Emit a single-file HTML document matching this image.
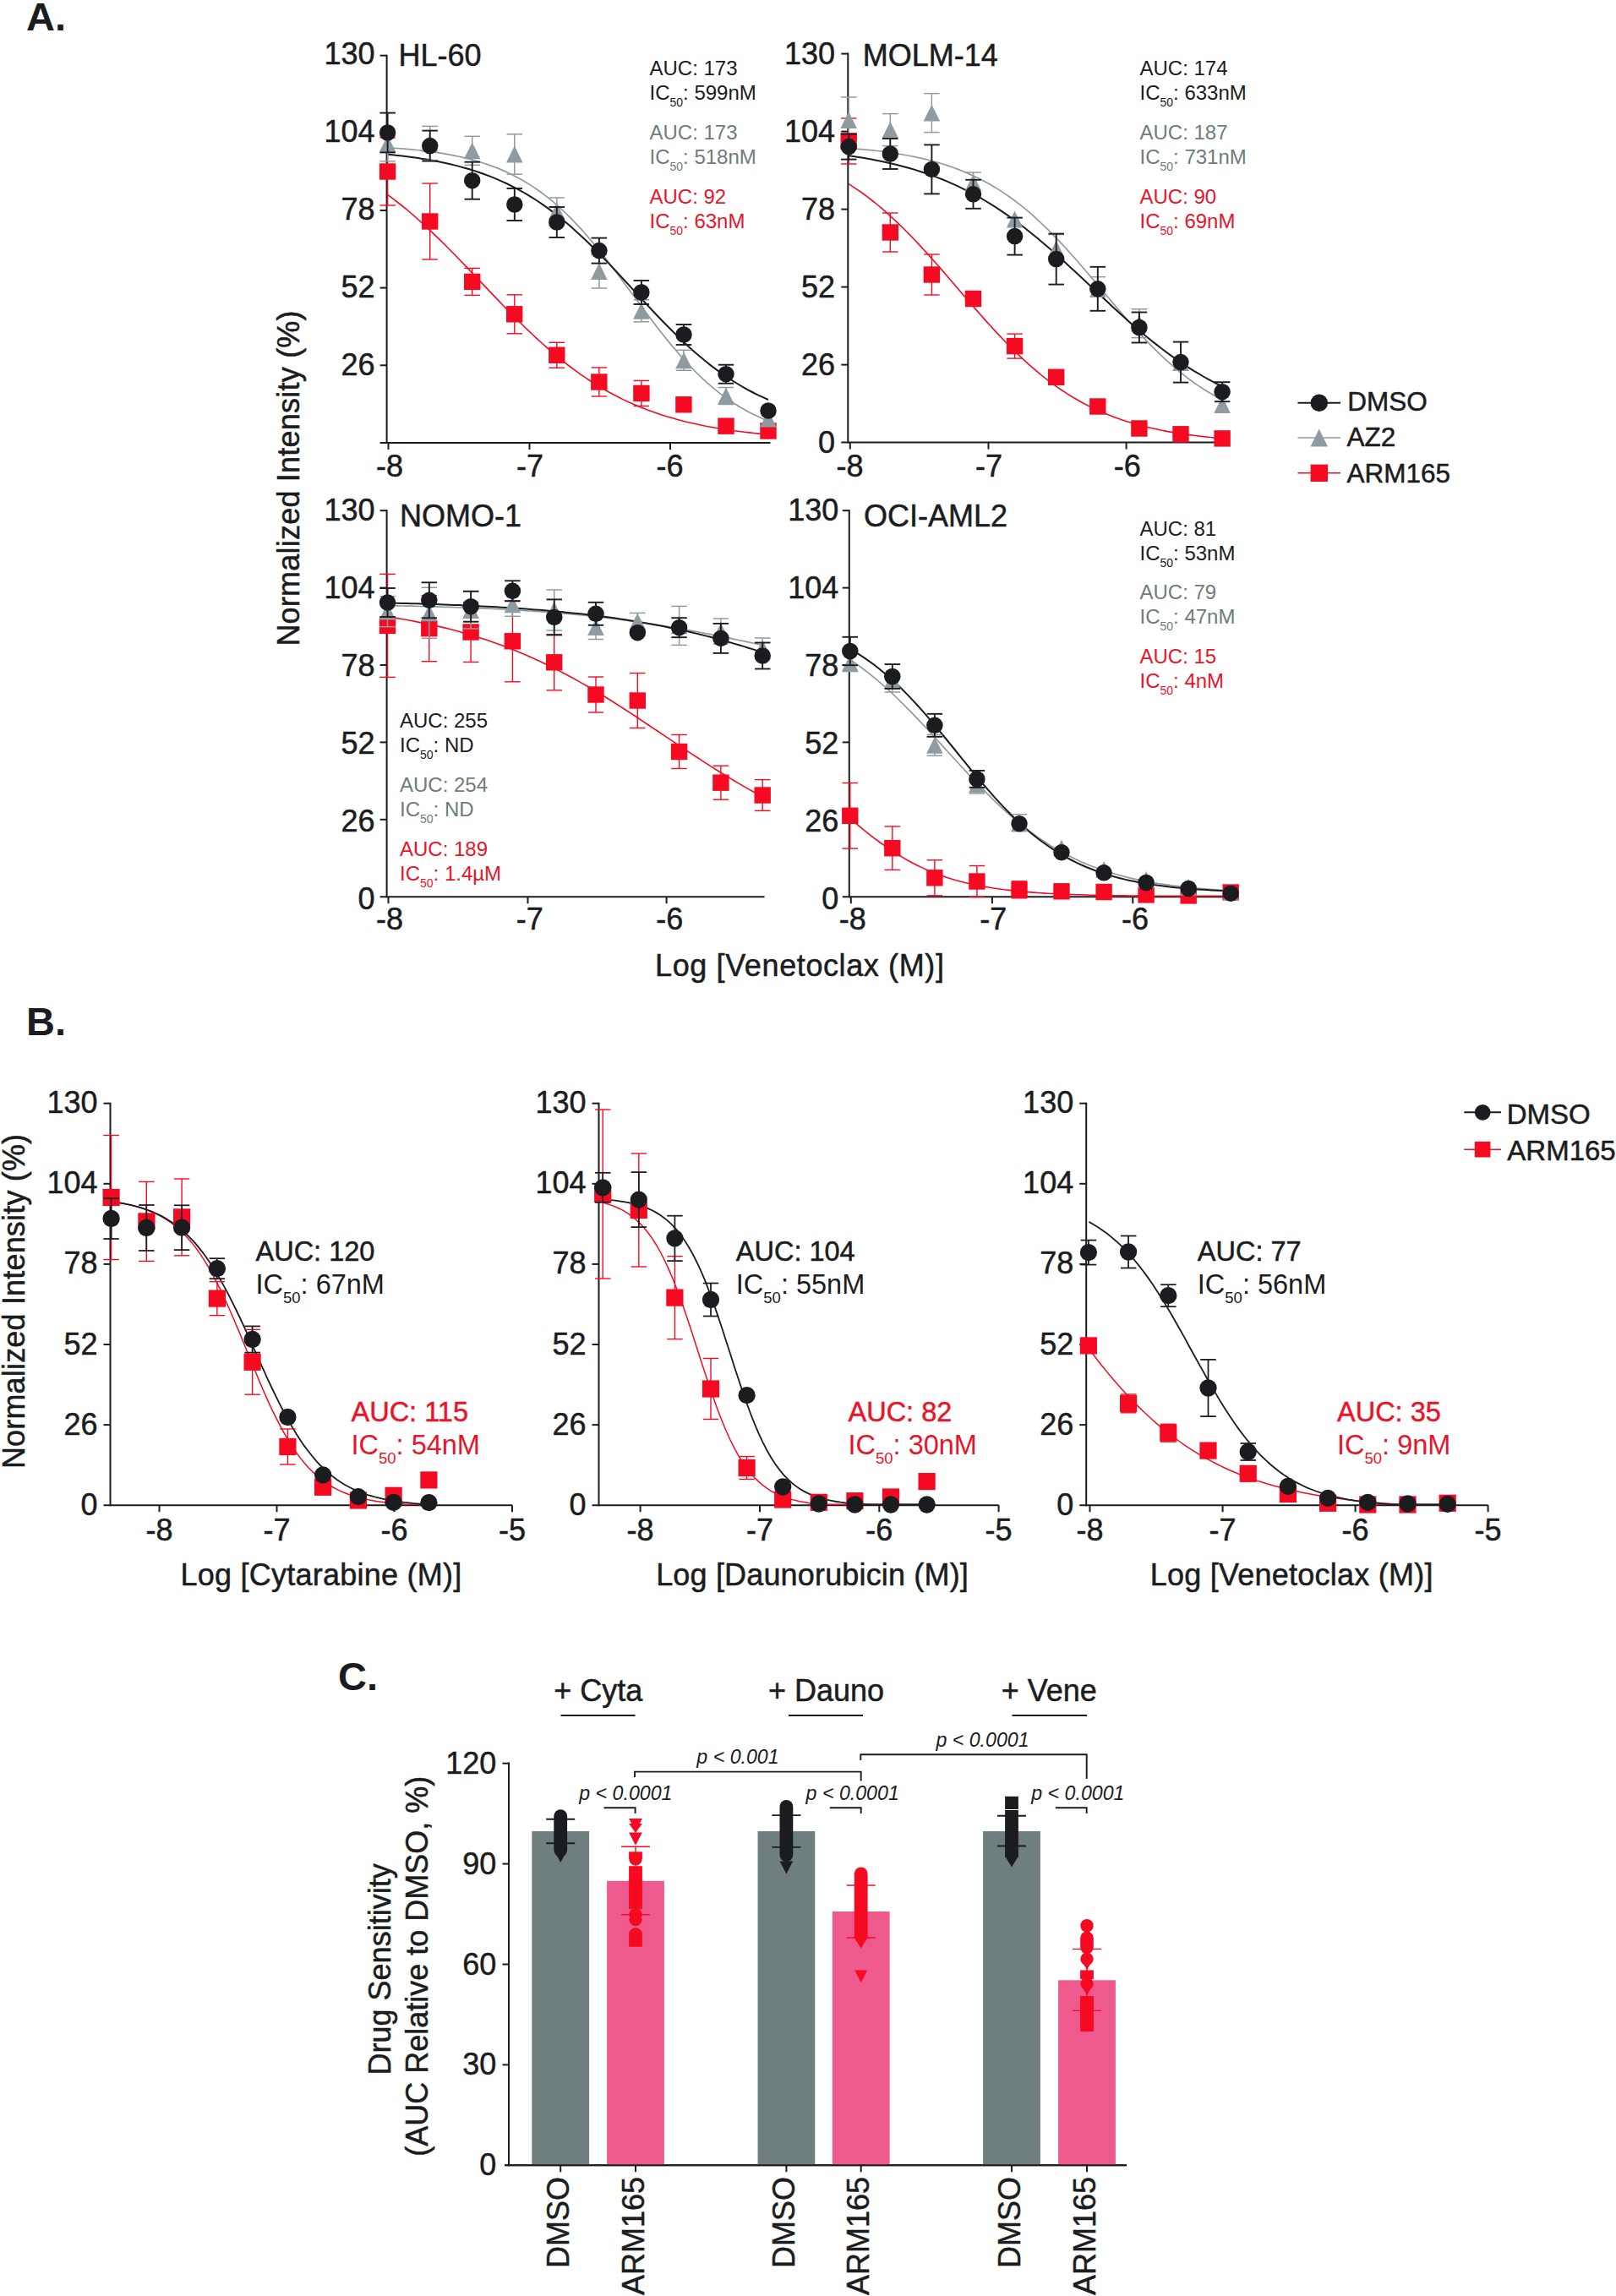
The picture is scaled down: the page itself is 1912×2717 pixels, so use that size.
<!DOCTYPE html>
<html><head><meta charset="utf-8"><title>Figure</title>
<style>html,body{margin:0;padding:0;background:#fff}svg{display:block}</style></head>
<body>
<svg width="1912" height="2717" viewBox="0 0 1912 2717" font-family="'Liberation Sans', Arial, Helvetica, sans-serif">
<rect width="1912" height="2717" fill="#fff"/>
<text x="31.0" y="36.0" font-size="47" fill="#1b1c20" text-anchor="start" font-weight="bold" font-style="normal">A.</text>
<text x="31.0" y="1225.0" font-size="47" fill="#1b1c20" text-anchor="start" font-weight="bold" font-style="normal">B.</text>
<text x="400.0" y="1999.5" font-size="47" fill="#1b1c20" text-anchor="start" font-weight="bold" font-style="normal">C.</text>
<line x1="457.6" y1="64.7" x2="457.6" y2="524.9" stroke="#1b1c20" stroke-width="2.0" stroke-linecap="butt"/>
<line x1="449.6" y1="523.9" x2="911.5" y2="523.9" stroke="#1b1c20" stroke-width="2.0" stroke-linecap="butt"/>
<line x1="449.6" y1="432.3" x2="457.6" y2="432.3" stroke="#1b1c20" stroke-width="2.0" stroke-linecap="butt"/>
<text x="443.6" y="443.5" font-size="36" fill="#1b1c20" text-anchor="end" font-weight="normal" font-style="normal" stroke="#1b1c20" stroke-width="0.5">26</text>
<line x1="449.6" y1="340.6" x2="457.6" y2="340.6" stroke="#1b1c20" stroke-width="2.0" stroke-linecap="butt"/>
<text x="443.6" y="351.6" font-size="36" fill="#1b1c20" text-anchor="end" font-weight="normal" font-style="normal" stroke="#1b1c20" stroke-width="0.5">52</text>
<line x1="449.6" y1="249.0" x2="457.6" y2="249.0" stroke="#1b1c20" stroke-width="2.0" stroke-linecap="butt"/>
<text x="443.6" y="259.6" font-size="36" fill="#1b1c20" text-anchor="end" font-weight="normal" font-style="normal" stroke="#1b1c20" stroke-width="0.5">78</text>
<line x1="449.6" y1="157.3" x2="457.6" y2="157.3" stroke="#1b1c20" stroke-width="2.0" stroke-linecap="butt"/>
<text x="443.6" y="167.7" font-size="36" fill="#1b1c20" text-anchor="end" font-weight="normal" font-style="normal" stroke="#1b1c20" stroke-width="0.5">104</text>
<line x1="449.6" y1="65.7" x2="457.6" y2="65.7" stroke="#1b1c20" stroke-width="2.0" stroke-linecap="butt"/>
<text x="443.6" y="75.7" font-size="36" fill="#1b1c20" text-anchor="end" font-weight="normal" font-style="normal" stroke="#1b1c20" stroke-width="0.5">130</text>
<line x1="459.5" y1="523.9" x2="459.5" y2="531.9" stroke="#1b1c20" stroke-width="2.0" stroke-linecap="butt"/>
<text x="461.0" y="563.6" font-size="36" fill="#1b1c20" text-anchor="middle" font-weight="normal" font-style="normal" stroke="#1b1c20" stroke-width="0.5">-8</text>
<line x1="626.5" y1="523.9" x2="626.5" y2="531.9" stroke="#1b1c20" stroke-width="2.0" stroke-linecap="butt"/>
<text x="626.9" y="563.6" font-size="36" fill="#1b1c20" text-anchor="middle" font-weight="normal" font-style="normal" stroke="#1b1c20" stroke-width="0.5">-7</text>
<line x1="793.0" y1="523.9" x2="793.0" y2="531.9" stroke="#1b1c20" stroke-width="2.0" stroke-linecap="butt"/>
<text x="792.5" y="563.6" font-size="36" fill="#1b1c20" text-anchor="middle" font-weight="normal" font-style="normal" stroke="#1b1c20" stroke-width="0.5">-6</text>
<text x="471.5" y="77.8" font-size="36" fill="#1b1c20" text-anchor="start" font-weight="normal" font-style="normal" stroke="#1b1c20" stroke-width="0.5">HL-60</text>
<path d="M458.6,230.3 L464.3,234.6 L470.0,239.0 L475.7,243.5 L481.4,248.2 L487.1,253.0 L492.8,258.0 L498.5,263.1 L504.2,268.3 L509.9,273.6 L515.6,279.1 L521.3,284.6 L527.0,290.3 L532.7,296.0 L538.4,301.8 L544.1,307.7 L549.8,313.6 L555.5,319.6 L561.2,325.6 L566.9,331.6 L572.6,337.6 L578.3,343.6 L584.0,349.6 L589.7,355.6 L595.4,361.5 L601.1,367.4 L606.8,373.2 L612.6,378.9 L618.3,384.5 L624.0,390.1 L629.7,395.5 L635.4,400.8 L641.1,406.0 L646.8,411.1 L652.5,416.1 L658.2,420.9 L663.9,425.6 L669.6,430.1 L675.3,434.5 L681.0,438.7 L686.7,442.8 L692.4,446.7 L698.1,450.5 L703.8,454.2 L709.5,457.7 L715.2,461.0 L720.9,464.3 L726.6,467.3 L732.3,470.3 L738.0,473.1 L743.7,475.8 L749.4,478.3 L755.1,480.7 L760.8,483.0 L766.5,485.2 L772.2,487.3 L777.9,489.3 L783.6,491.2 L789.3,493.0 L795.0,494.6 L800.7,496.2 L806.4,497.8 L812.1,499.2 L817.8,500.5 L823.5,501.8 L829.2,503.0 L834.9,504.2 L840.6,505.2 L846.3,506.2 L852.0,507.2 L857.7,508.1 L863.4,508.9 L869.1,509.8 L874.8,510.5 L880.5,511.2 L886.2,511.9 L891.9,512.5 L897.6,513.1 L903.3,513.7 L909.0,514.2" fill="none" stroke="#f60a21" stroke-width="1.6"/>
<path d="M458.6,174.7 L464.3,175.1 L470.0,175.5 L475.7,175.9 L481.4,176.4 L487.1,176.9 L492.8,177.5 L498.5,178.1 L504.2,178.8 L509.9,179.6 L515.6,180.4 L521.3,181.2 L527.0,182.2 L532.7,183.2 L538.4,184.3 L544.1,185.5 L549.8,186.8 L555.5,188.2 L561.2,189.8 L566.9,191.4 L572.6,193.2 L578.3,195.1 L584.0,197.2 L589.7,199.4 L595.4,201.9 L601.1,204.4 L606.8,207.2 L612.6,210.2 L618.3,213.3 L624.0,216.7 L629.7,220.4 L635.4,224.2 L641.1,228.3 L646.8,232.6 L652.5,237.2 L658.2,242.1 L663.9,247.2 L669.6,252.5 L675.3,258.2 L681.0,264.1 L686.7,270.2 L692.4,276.5 L698.1,283.1 L703.8,289.9 L709.5,296.9 L715.2,304.1 L720.9,311.5 L726.6,318.9 L732.3,326.5 L738.0,334.2 L743.7,341.9 L749.4,349.6 L755.1,357.4 L760.8,365.1 L766.5,372.7 L772.2,380.3 L777.9,387.7 L783.6,395.0 L789.3,402.1 L795.0,409.1 L800.7,415.8 L806.4,422.4 L812.1,428.7 L817.8,434.7 L823.5,440.5 L829.2,446.1 L834.9,451.3 L840.6,456.4 L846.3,461.1 L852.0,465.7 L857.7,469.9 L863.4,473.9 L869.1,477.7 L874.8,481.3 L880.5,484.6 L886.2,487.7 L891.9,490.6 L897.6,493.3 L903.3,495.9 L909.0,498.2" fill="none" stroke="#8f9ba1" stroke-width="1.7"/>
<path d="M458.6,182.7 L464.3,183.3 L470.0,183.9 L475.7,184.6 L481.4,185.3 L487.1,186.0 L492.8,186.8 L498.5,187.7 L504.2,188.6 L509.9,189.6 L515.6,190.6 L521.3,191.8 L527.0,193.0 L532.7,194.2 L538.4,195.6 L544.1,197.1 L549.8,198.7 L555.5,200.3 L561.2,202.1 L566.9,204.0 L572.6,206.0 L578.3,208.1 L584.0,210.4 L589.7,212.8 L595.4,215.3 L601.1,218.0 L606.8,220.9 L612.6,223.9 L618.3,227.0 L624.0,230.4 L629.7,233.8 L635.4,237.5 L641.1,241.4 L646.8,245.4 L652.5,249.6 L658.2,253.9 L663.9,258.5 L669.6,263.2 L675.3,268.1 L681.0,273.2 L686.7,278.4 L692.4,283.7 L698.1,289.2 L703.8,294.9 L709.5,300.6 L715.2,306.5 L720.9,312.4 L726.6,318.5 L732.3,324.6 L738.0,330.7 L743.7,336.9 L749.4,343.1 L755.1,349.3 L760.8,355.5 L766.5,361.6 L772.2,367.7 L777.9,373.8 L783.6,379.7 L789.3,385.5 L795.0,391.3 L800.7,396.9 L806.4,402.4 L812.1,407.7 L817.8,412.9 L823.5,418.0 L829.2,422.8 L834.9,427.5 L840.6,432.1 L846.3,436.4 L852.0,440.6 L857.7,444.6 L863.4,448.4 L869.1,452.0 L874.8,455.5 L880.5,458.8 L886.2,462.0 L891.9,465.0 L897.6,467.8 L903.3,470.4 L909.0,473.0" fill="none" stroke="#1b1c20" stroke-width="2.0"/>
<line x1="458.6" y1="163.0" x2="458.6" y2="243.0" stroke="#f60a21" stroke-width="1.4" stroke-linecap="butt"/>
<line x1="449.4" y1="163.0" x2="467.9" y2="163.0" stroke="#f60a21" stroke-width="1.4" stroke-linecap="butt"/>
<line x1="449.4" y1="243.0" x2="467.9" y2="243.0" stroke="#f60a21" stroke-width="1.4" stroke-linecap="butt"/>
<line x1="508.7" y1="217.0" x2="508.7" y2="307.0" stroke="#f60a21" stroke-width="1.4" stroke-linecap="butt"/>
<line x1="499.4" y1="217.0" x2="517.9" y2="217.0" stroke="#f60a21" stroke-width="1.4" stroke-linecap="butt"/>
<line x1="499.4" y1="307.0" x2="517.9" y2="307.0" stroke="#f60a21" stroke-width="1.4" stroke-linecap="butt"/>
<line x1="558.7" y1="317.4" x2="558.7" y2="349.4" stroke="#f60a21" stroke-width="1.4" stroke-linecap="butt"/>
<line x1="549.5" y1="317.4" x2="568.0" y2="317.4" stroke="#f60a21" stroke-width="1.4" stroke-linecap="butt"/>
<line x1="549.5" y1="349.4" x2="568.0" y2="349.4" stroke="#f60a21" stroke-width="1.4" stroke-linecap="butt"/>
<line x1="608.8" y1="348.8" x2="608.8" y2="394.8" stroke="#f60a21" stroke-width="1.4" stroke-linecap="butt"/>
<line x1="599.5" y1="348.8" x2="618.0" y2="348.8" stroke="#f60a21" stroke-width="1.4" stroke-linecap="butt"/>
<line x1="599.5" y1="394.8" x2="618.0" y2="394.8" stroke="#f60a21" stroke-width="1.4" stroke-linecap="butt"/>
<line x1="658.8" y1="405.3" x2="658.8" y2="435.3" stroke="#f60a21" stroke-width="1.4" stroke-linecap="butt"/>
<line x1="649.5" y1="405.3" x2="668.0" y2="405.3" stroke="#f60a21" stroke-width="1.4" stroke-linecap="butt"/>
<line x1="649.5" y1="435.3" x2="668.0" y2="435.3" stroke="#f60a21" stroke-width="1.4" stroke-linecap="butt"/>
<line x1="708.9" y1="435.0" x2="708.9" y2="469.0" stroke="#f60a21" stroke-width="1.4" stroke-linecap="butt"/>
<line x1="699.6" y1="435.0" x2="718.1" y2="435.0" stroke="#f60a21" stroke-width="1.4" stroke-linecap="butt"/>
<line x1="699.6" y1="469.0" x2="718.1" y2="469.0" stroke="#f60a21" stroke-width="1.4" stroke-linecap="butt"/>
<line x1="758.9" y1="450.4" x2="758.9" y2="480.4" stroke="#f60a21" stroke-width="1.4" stroke-linecap="butt"/>
<line x1="749.6" y1="450.4" x2="768.1" y2="450.4" stroke="#f60a21" stroke-width="1.4" stroke-linecap="butt"/>
<line x1="749.6" y1="480.4" x2="768.1" y2="480.4" stroke="#f60a21" stroke-width="1.4" stroke-linecap="butt"/>
<rect x="448.9" y="193.3" width="19.4" height="19.4" fill="#f60a21"/>
<rect x="499.0" y="252.3" width="19.4" height="19.4" fill="#f60a21"/>
<rect x="549.0" y="323.7" width="19.4" height="19.4" fill="#f60a21"/>
<rect x="599.0" y="362.1" width="19.4" height="19.4" fill="#f60a21"/>
<rect x="649.1" y="410.6" width="19.4" height="19.4" fill="#f60a21"/>
<rect x="699.1" y="442.3" width="19.4" height="19.4" fill="#f60a21"/>
<rect x="749.2" y="455.7" width="19.4" height="19.4" fill="#f60a21"/>
<rect x="799.2" y="469.1" width="19.4" height="19.4" fill="#f60a21"/>
<rect x="849.3" y="494.5" width="19.4" height="19.4" fill="#f60a21"/>
<rect x="899.3" y="500.3" width="19.4" height="19.4" fill="#f60a21"/>
<line x1="458.6" y1="170.0" x2="458.6" y2="190.8" stroke="#8f9ba1" stroke-width="1.5" stroke-linecap="butt"/>
<line x1="449.4" y1="190.8" x2="467.9" y2="190.8" stroke="#8f9ba1" stroke-width="1.5" stroke-linecap="butt"/>
<line x1="508.7" y1="149.4" x2="508.7" y2="189.6" stroke="#8f9ba1" stroke-width="1.5" stroke-linecap="butt"/>
<line x1="499.4" y1="149.4" x2="517.9" y2="149.4" stroke="#8f9ba1" stroke-width="1.5" stroke-linecap="butt"/>
<line x1="499.4" y1="189.6" x2="517.9" y2="189.6" stroke="#8f9ba1" stroke-width="1.5" stroke-linecap="butt"/>
<line x1="558.7" y1="161.3" x2="558.7" y2="195.3" stroke="#8f9ba1" stroke-width="1.5" stroke-linecap="butt"/>
<line x1="549.5" y1="161.3" x2="568.0" y2="161.3" stroke="#8f9ba1" stroke-width="1.5" stroke-linecap="butt"/>
<line x1="549.5" y1="195.3" x2="568.0" y2="195.3" stroke="#8f9ba1" stroke-width="1.5" stroke-linecap="butt"/>
<line x1="608.8" y1="158.8" x2="608.8" y2="206.2" stroke="#8f9ba1" stroke-width="1.5" stroke-linecap="butt"/>
<line x1="599.5" y1="158.8" x2="618.0" y2="158.8" stroke="#8f9ba1" stroke-width="1.5" stroke-linecap="butt"/>
<line x1="599.5" y1="206.2" x2="618.0" y2="206.2" stroke="#8f9ba1" stroke-width="1.5" stroke-linecap="butt"/>
<line x1="658.8" y1="234.0" x2="658.8" y2="266.0" stroke="#8f9ba1" stroke-width="1.5" stroke-linecap="butt"/>
<line x1="649.5" y1="234.0" x2="668.0" y2="234.0" stroke="#8f9ba1" stroke-width="1.5" stroke-linecap="butt"/>
<line x1="649.5" y1="266.0" x2="668.0" y2="266.0" stroke="#8f9ba1" stroke-width="1.5" stroke-linecap="butt"/>
<line x1="708.9" y1="301.0" x2="708.9" y2="341.0" stroke="#8f9ba1" stroke-width="1.5" stroke-linecap="butt"/>
<line x1="699.6" y1="301.0" x2="718.1" y2="301.0" stroke="#8f9ba1" stroke-width="1.5" stroke-linecap="butt"/>
<line x1="699.6" y1="341.0" x2="718.1" y2="341.0" stroke="#8f9ba1" stroke-width="1.5" stroke-linecap="butt"/>
<line x1="758.9" y1="354.8" x2="758.9" y2="380.8" stroke="#8f9ba1" stroke-width="1.5" stroke-linecap="butt"/>
<line x1="749.6" y1="354.8" x2="768.1" y2="354.8" stroke="#8f9ba1" stroke-width="1.5" stroke-linecap="butt"/>
<line x1="749.6" y1="380.8" x2="768.1" y2="380.8" stroke="#8f9ba1" stroke-width="1.5" stroke-linecap="butt"/>
<line x1="809.0" y1="414.3" x2="809.0" y2="438.3" stroke="#8f9ba1" stroke-width="1.5" stroke-linecap="butt"/>
<line x1="799.7" y1="414.3" x2="818.2" y2="414.3" stroke="#8f9ba1" stroke-width="1.5" stroke-linecap="butt"/>
<line x1="799.7" y1="438.3" x2="818.2" y2="438.3" stroke="#8f9ba1" stroke-width="1.5" stroke-linecap="butt"/>
<line x1="859.0" y1="458.5" x2="859.0" y2="478.5" stroke="#8f9ba1" stroke-width="1.5" stroke-linecap="butt"/>
<line x1="849.8" y1="458.5" x2="868.2" y2="458.5" stroke="#8f9ba1" stroke-width="1.5" stroke-linecap="butt"/>
<line x1="849.8" y1="478.5" x2="868.2" y2="478.5" stroke="#8f9ba1" stroke-width="1.5" stroke-linecap="butt"/>
<path d="M458.6,160.1 L468.4,179.9 L448.8,179.9Z" fill="#8f9ba1"/>
<path d="M508.7,159.6 L518.5,179.4 L498.9,179.4Z" fill="#8f9ba1"/>
<path d="M558.7,168.4 L568.5,188.2 L548.9,188.2Z" fill="#8f9ba1"/>
<path d="M608.8,172.6 L618.5,192.4 L599.0,192.4Z" fill="#8f9ba1"/>
<path d="M658.8,240.1 L668.6,259.9 L649.0,259.9Z" fill="#8f9ba1"/>
<path d="M708.9,311.1 L718.6,330.9 L699.1,330.9Z" fill="#8f9ba1"/>
<path d="M758.9,357.9 L768.7,377.7 L749.1,377.7Z" fill="#8f9ba1"/>
<path d="M809.0,416.4 L818.8,436.2 L799.2,436.2Z" fill="#8f9ba1"/>
<path d="M859.0,458.6 L868.8,478.4 L849.2,478.4Z" fill="#8f9ba1"/>
<path d="M909.0,485.7 L918.8,505.5 L899.2,505.5Z" fill="#8f9ba1"/>
<line x1="458.6" y1="133.6" x2="458.6" y2="180.4" stroke="#1b1c20" stroke-width="1.9" stroke-linecap="butt"/>
<line x1="449.4" y1="133.6" x2="467.9" y2="133.6" stroke="#1b1c20" stroke-width="1.9" stroke-linecap="butt"/>
<line x1="449.4" y1="180.4" x2="467.9" y2="180.4" stroke="#1b1c20" stroke-width="1.9" stroke-linecap="butt"/>
<line x1="508.7" y1="154.6" x2="508.7" y2="190.6" stroke="#1b1c20" stroke-width="1.9" stroke-linecap="butt"/>
<line x1="499.4" y1="154.6" x2="517.9" y2="154.6" stroke="#1b1c20" stroke-width="1.9" stroke-linecap="butt"/>
<line x1="499.4" y1="190.6" x2="517.9" y2="190.6" stroke="#1b1c20" stroke-width="1.9" stroke-linecap="butt"/>
<line x1="558.7" y1="191.7" x2="558.7" y2="235.7" stroke="#1b1c20" stroke-width="1.9" stroke-linecap="butt"/>
<line x1="549.5" y1="191.7" x2="568.0" y2="191.7" stroke="#1b1c20" stroke-width="1.9" stroke-linecap="butt"/>
<line x1="549.5" y1="235.7" x2="568.0" y2="235.7" stroke="#1b1c20" stroke-width="1.9" stroke-linecap="butt"/>
<line x1="608.8" y1="223.0" x2="608.8" y2="261.0" stroke="#1b1c20" stroke-width="1.9" stroke-linecap="butt"/>
<line x1="599.5" y1="223.0" x2="618.0" y2="223.0" stroke="#1b1c20" stroke-width="1.9" stroke-linecap="butt"/>
<line x1="599.5" y1="261.0" x2="618.0" y2="261.0" stroke="#1b1c20" stroke-width="1.9" stroke-linecap="butt"/>
<line x1="658.8" y1="245.0" x2="658.8" y2="281.0" stroke="#1b1c20" stroke-width="1.9" stroke-linecap="butt"/>
<line x1="649.5" y1="245.0" x2="668.0" y2="245.0" stroke="#1b1c20" stroke-width="1.9" stroke-linecap="butt"/>
<line x1="649.5" y1="281.0" x2="668.0" y2="281.0" stroke="#1b1c20" stroke-width="1.9" stroke-linecap="butt"/>
<line x1="708.9" y1="281.6" x2="708.9" y2="311.6" stroke="#1b1c20" stroke-width="1.9" stroke-linecap="butt"/>
<line x1="699.6" y1="281.6" x2="718.1" y2="281.6" stroke="#1b1c20" stroke-width="1.9" stroke-linecap="butt"/>
<line x1="699.6" y1="311.6" x2="718.1" y2="311.6" stroke="#1b1c20" stroke-width="1.9" stroke-linecap="butt"/>
<line x1="758.9" y1="332.0" x2="758.9" y2="360.0" stroke="#1b1c20" stroke-width="1.9" stroke-linecap="butt"/>
<line x1="749.6" y1="332.0" x2="768.1" y2="332.0" stroke="#1b1c20" stroke-width="1.9" stroke-linecap="butt"/>
<line x1="749.6" y1="360.0" x2="768.1" y2="360.0" stroke="#1b1c20" stroke-width="1.9" stroke-linecap="butt"/>
<line x1="809.0" y1="384.0" x2="809.0" y2="408.0" stroke="#1b1c20" stroke-width="1.9" stroke-linecap="butt"/>
<line x1="799.7" y1="384.0" x2="818.2" y2="384.0" stroke="#1b1c20" stroke-width="1.9" stroke-linecap="butt"/>
<line x1="799.7" y1="408.0" x2="818.2" y2="408.0" stroke="#1b1c20" stroke-width="1.9" stroke-linecap="butt"/>
<line x1="859.0" y1="431.7" x2="859.0" y2="453.7" stroke="#1b1c20" stroke-width="1.9" stroke-linecap="butt"/>
<line x1="849.8" y1="431.7" x2="868.2" y2="431.7" stroke="#1b1c20" stroke-width="1.9" stroke-linecap="butt"/>
<line x1="849.8" y1="453.7" x2="868.2" y2="453.7" stroke="#1b1c20" stroke-width="1.9" stroke-linecap="butt"/>
<circle cx="458.6" cy="157.0" r="9.75" fill="#1b1c20"/>
<circle cx="508.7" cy="172.6" r="9.75" fill="#1b1c20"/>
<circle cx="558.7" cy="213.7" r="9.75" fill="#1b1c20"/>
<circle cx="608.8" cy="242.0" r="9.75" fill="#1b1c20"/>
<circle cx="658.8" cy="263.0" r="9.75" fill="#1b1c20"/>
<circle cx="708.9" cy="296.6" r="9.75" fill="#1b1c20"/>
<circle cx="758.9" cy="346.0" r="9.75" fill="#1b1c20"/>
<circle cx="809.0" cy="396.0" r="9.75" fill="#1b1c20"/>
<circle cx="859.0" cy="442.7" r="9.75" fill="#1b1c20"/>
<circle cx="909.0" cy="486.0" r="9.75" fill="#1b1c20"/>
<text x="768.5" y="89.0" font-size="24" fill="#1b1c20" text-anchor="start" font-weight="normal" font-style="normal">AUC: 173</text>
<text x="768.5" y="118.0" font-size="24" fill="#1b1c20">IC<tspan font-size="14" dy="8">50</tspan><tspan dy="-8">: 599nM</tspan></text>
<text x="768.5" y="164.8" font-size="24" fill="#6f7c7d" text-anchor="start" font-weight="normal" font-style="normal">AUC: 173</text>
<text x="768.5" y="193.8" font-size="24" fill="#6f7c7d">IC<tspan font-size="14" dy="8">50</tspan><tspan dy="-8">: 518nM</tspan></text>
<text x="768.5" y="241.3" font-size="24" fill="#e8152a" text-anchor="start" font-weight="normal" font-style="normal">AUC: 92</text>
<text x="768.5" y="270.3" font-size="24" fill="#e8152a">IC<tspan font-size="14" dy="8">50</tspan><tspan dy="-8">: 63nM</tspan></text>
<line x1="1003.3" y1="62.6" x2="1003.3" y2="524.6" stroke="#1b1c20" stroke-width="2.0" stroke-linecap="butt"/>
<line x1="995.3" y1="523.6" x2="1448.0" y2="523.6" stroke="#1b1c20" stroke-width="2.0" stroke-linecap="butt"/>
<text x="988.1" y="535.5" font-size="36" fill="#1b1c20" text-anchor="end" font-weight="normal" font-style="normal" stroke="#1b1c20" stroke-width="0.5">0</text>
<line x1="995.3" y1="431.6" x2="1003.3" y2="431.6" stroke="#1b1c20" stroke-width="2.0" stroke-linecap="butt"/>
<text x="988.1" y="443.5" font-size="36" fill="#1b1c20" text-anchor="end" font-weight="normal" font-style="normal" stroke="#1b1c20" stroke-width="0.5">26</text>
<line x1="995.3" y1="339.6" x2="1003.3" y2="339.6" stroke="#1b1c20" stroke-width="2.0" stroke-linecap="butt"/>
<text x="988.1" y="351.6" font-size="36" fill="#1b1c20" text-anchor="end" font-weight="normal" font-style="normal" stroke="#1b1c20" stroke-width="0.5">52</text>
<line x1="995.3" y1="247.6" x2="1003.3" y2="247.6" stroke="#1b1c20" stroke-width="2.0" stroke-linecap="butt"/>
<text x="988.1" y="259.6" font-size="36" fill="#1b1c20" text-anchor="end" font-weight="normal" font-style="normal" stroke="#1b1c20" stroke-width="0.5">78</text>
<line x1="995.3" y1="155.6" x2="1003.3" y2="155.6" stroke="#1b1c20" stroke-width="2.0" stroke-linecap="butt"/>
<text x="988.1" y="167.7" font-size="36" fill="#1b1c20" text-anchor="end" font-weight="normal" font-style="normal" stroke="#1b1c20" stroke-width="0.5">104</text>
<line x1="995.3" y1="63.6" x2="1003.3" y2="63.6" stroke="#1b1c20" stroke-width="2.0" stroke-linecap="butt"/>
<text x="988.1" y="75.7" font-size="36" fill="#1b1c20" text-anchor="end" font-weight="normal" font-style="normal" stroke="#1b1c20" stroke-width="0.5">130</text>
<line x1="1005.8" y1="523.6" x2="1005.8" y2="531.6" stroke="#1b1c20" stroke-width="2.0" stroke-linecap="butt"/>
<text x="1005.5" y="563.6" font-size="36" fill="#1b1c20" text-anchor="middle" font-weight="normal" font-style="normal" stroke="#1b1c20" stroke-width="0.5">-8</text>
<line x1="1169.5" y1="523.6" x2="1169.5" y2="531.6" stroke="#1b1c20" stroke-width="2.0" stroke-linecap="butt"/>
<text x="1170.0" y="563.6" font-size="36" fill="#1b1c20" text-anchor="middle" font-weight="normal" font-style="normal" stroke="#1b1c20" stroke-width="0.5">-7</text>
<line x1="1332.6" y1="523.6" x2="1332.6" y2="531.6" stroke="#1b1c20" stroke-width="2.0" stroke-linecap="butt"/>
<text x="1333.8" y="563.6" font-size="36" fill="#1b1c20" text-anchor="middle" font-weight="normal" font-style="normal" stroke="#1b1c20" stroke-width="0.5">-6</text>
<text x="1020.8" y="78.2" font-size="36" fill="#1b1c20" text-anchor="start" font-weight="normal" font-style="normal" stroke="#1b1c20" stroke-width="0.5">MOLM-14</text>
<path d="M1004.2,217.6 L1009.8,221.3 L1015.4,225.1 L1021.0,229.0 L1026.6,233.2 L1032.2,237.5 L1037.8,242.0 L1043.4,246.7 L1048.9,251.6 L1054.5,256.6 L1060.1,261.8 L1065.7,267.2 L1071.3,272.7 L1076.9,278.4 L1082.5,284.2 L1088.1,290.1 L1093.7,296.2 L1099.3,302.4 L1104.9,308.7 L1110.5,315.0 L1116.1,321.4 L1121.7,327.9 L1127.3,334.4 L1132.9,340.9 L1138.4,347.5 L1144.0,354.0 L1149.6,360.5 L1155.2,366.9 L1160.8,373.3 L1166.4,379.6 L1172.0,385.8 L1177.6,391.9 L1183.2,397.9 L1188.8,403.7 L1194.4,409.5 L1200.0,415.0 L1205.6,420.4 L1211.2,425.7 L1216.8,430.8 L1222.4,435.7 L1227.9,440.4 L1233.5,445.0 L1239.1,449.4 L1244.7,453.6 L1250.3,457.6 L1255.9,461.5 L1261.5,465.2 L1267.1,468.7 L1272.7,472.0 L1278.3,475.2 L1283.9,478.2 L1289.5,481.1 L1295.1,483.8 L1300.7,486.3 L1306.3,488.8 L1311.9,491.0 L1317.4,493.2 L1323.0,495.3 L1328.6,497.2 L1334.2,499.0 L1339.8,500.7 L1345.4,502.3 L1351.0,503.8 L1356.6,505.2 L1362.2,506.5 L1367.8,507.8 L1373.4,509.0 L1379.0,510.1 L1384.6,511.1 L1390.2,512.0 L1395.8,512.9 L1401.4,513.8 L1406.9,514.6 L1412.5,515.3 L1418.1,516.0 L1423.7,516.6 L1429.3,517.2 L1434.9,517.8 L1440.5,518.3 L1446.1,518.8" fill="none" stroke="#f60a21" stroke-width="1.6"/>
<path d="M1004.2,175.4 L1009.8,175.8 L1015.4,176.3 L1021.0,176.8 L1026.6,177.3 L1032.2,177.9 L1037.8,178.5 L1043.4,179.2 L1048.9,180.0 L1054.5,180.7 L1060.1,181.6 L1065.7,182.5 L1071.3,183.5 L1076.9,184.5 L1082.5,185.6 L1088.1,186.8 L1093.7,188.1 L1099.3,189.5 L1104.9,191.0 L1110.5,192.6 L1116.1,194.3 L1121.7,196.1 L1127.3,198.0 L1132.9,200.1 L1138.4,202.2 L1144.0,204.6 L1149.6,207.1 L1155.2,209.7 L1160.8,212.5 L1166.4,215.5 L1172.0,218.6 L1177.6,221.9 L1183.2,225.4 L1188.8,229.1 L1194.4,233.0 L1200.0,237.0 L1205.6,241.3 L1211.2,245.7 L1216.8,250.4 L1222.4,255.2 L1227.9,260.3 L1233.5,265.5 L1239.1,270.9 L1244.7,276.5 L1250.3,282.3 L1255.9,288.2 L1261.5,294.3 L1267.1,300.5 L1272.7,306.8 L1278.3,313.2 L1283.9,319.7 L1289.5,326.2 L1295.1,332.9 L1300.7,339.5 L1306.3,346.2 L1311.9,352.8 L1317.4,359.4 L1323.0,366.0 L1328.6,372.5 L1334.2,378.9 L1339.8,385.2 L1345.4,391.4 L1351.0,397.5 L1356.6,403.4 L1362.2,409.1 L1367.8,414.7 L1373.4,420.2 L1379.0,425.4 L1384.6,430.4 L1390.2,435.3 L1395.8,440.0 L1401.4,444.4 L1406.9,448.7 L1412.5,452.8 L1418.1,456.6 L1423.7,460.3 L1429.3,463.8 L1434.9,467.1 L1440.5,470.3 L1446.1,473.2" fill="none" stroke="#8f9ba1" stroke-width="1.7"/>
<path d="M1004.2,184.3 L1009.8,185.1 L1015.4,185.9 L1021.0,186.8 L1026.6,187.8 L1032.2,188.8 L1037.8,189.9 L1043.4,191.0 L1048.9,192.2 L1054.5,193.5 L1060.1,194.8 L1065.7,196.2 L1071.3,197.7 L1076.9,199.3 L1082.5,200.9 L1088.1,202.7 L1093.7,204.5 L1099.3,206.4 L1104.9,208.4 L1110.5,210.6 L1116.1,212.8 L1121.7,215.1 L1127.3,217.6 L1132.9,220.1 L1138.4,222.8 L1144.0,225.6 L1149.6,228.5 L1155.2,231.5 L1160.8,234.7 L1166.4,238.0 L1172.0,241.4 L1177.6,244.9 L1183.2,248.6 L1188.8,252.4 L1194.4,256.3 L1200.0,260.3 L1205.6,264.5 L1211.2,268.8 L1216.8,273.2 L1222.4,277.7 L1227.9,282.3 L1233.5,287.0 L1239.1,291.8 L1244.7,296.6 L1250.3,301.6 L1255.9,306.6 L1261.5,311.7 L1267.1,316.9 L1272.7,322.1 L1278.3,327.3 L1283.9,332.5 L1289.5,337.8 L1295.1,343.1 L1300.7,348.3 L1306.3,353.6 L1311.9,358.8 L1317.4,363.9 L1323.0,369.1 L1328.6,374.1 L1334.2,379.2 L1339.8,384.1 L1345.4,388.9 L1351.0,393.7 L1356.6,398.4 L1362.2,403.0 L1367.8,407.4 L1373.4,411.8 L1379.0,416.0 L1384.6,420.1 L1390.2,424.1 L1395.8,428.0 L1401.4,431.8 L1406.9,435.4 L1412.5,438.9 L1418.1,442.2 L1423.7,445.5 L1429.3,448.6 L1434.9,451.6 L1440.5,454.5 L1446.1,457.2" fill="none" stroke="#1b1c20" stroke-width="2.0"/>
<line x1="1004.2" y1="140.0" x2="1004.2" y2="194.0" stroke="#f60a21" stroke-width="1.4" stroke-linecap="butt"/>
<line x1="995.0" y1="140.0" x2="1013.5" y2="140.0" stroke="#f60a21" stroke-width="1.4" stroke-linecap="butt"/>
<line x1="995.0" y1="194.0" x2="1013.5" y2="194.0" stroke="#f60a21" stroke-width="1.4" stroke-linecap="butt"/>
<line x1="1053.3" y1="252.0" x2="1053.3" y2="298.0" stroke="#f60a21" stroke-width="1.4" stroke-linecap="butt"/>
<line x1="1044.0" y1="252.0" x2="1062.5" y2="252.0" stroke="#f60a21" stroke-width="1.4" stroke-linecap="butt"/>
<line x1="1044.0" y1="298.0" x2="1062.5" y2="298.0" stroke="#f60a21" stroke-width="1.4" stroke-linecap="butt"/>
<line x1="1102.4" y1="301.0" x2="1102.4" y2="349.0" stroke="#f60a21" stroke-width="1.4" stroke-linecap="butt"/>
<line x1="1093.2" y1="301.0" x2="1111.7" y2="301.0" stroke="#f60a21" stroke-width="1.4" stroke-linecap="butt"/>
<line x1="1093.2" y1="349.0" x2="1111.7" y2="349.0" stroke="#f60a21" stroke-width="1.4" stroke-linecap="butt"/>
<line x1="1200.6" y1="395.1" x2="1200.6" y2="424.1" stroke="#f60a21" stroke-width="1.4" stroke-linecap="butt"/>
<line x1="1191.4" y1="395.1" x2="1209.9" y2="395.1" stroke="#f60a21" stroke-width="1.4" stroke-linecap="butt"/>
<line x1="1191.4" y1="424.1" x2="1209.9" y2="424.1" stroke="#f60a21" stroke-width="1.4" stroke-linecap="butt"/>
<rect x="994.5" y="157.3" width="19.4" height="19.4" fill="#f60a21"/>
<rect x="1043.6" y="265.3" width="19.4" height="19.4" fill="#f60a21"/>
<rect x="1092.7" y="315.3" width="19.4" height="19.4" fill="#f60a21"/>
<rect x="1141.8" y="343.8" width="19.4" height="19.4" fill="#f60a21"/>
<rect x="1190.9" y="399.9" width="19.4" height="19.4" fill="#f60a21"/>
<rect x="1240.0" y="436.6" width="19.4" height="19.4" fill="#f60a21"/>
<rect x="1289.1" y="471.3" width="19.4" height="19.4" fill="#f60a21"/>
<rect x="1338.2" y="497.3" width="19.4" height="19.4" fill="#f60a21"/>
<rect x="1387.3" y="504.1" width="19.4" height="19.4" fill="#f60a21"/>
<rect x="1436.4" y="509.2" width="19.4" height="19.4" fill="#f60a21"/>
<line x1="1004.2" y1="115.0" x2="1004.2" y2="169.0" stroke="#8f9ba1" stroke-width="1.5" stroke-linecap="butt"/>
<line x1="995.0" y1="115.0" x2="1013.5" y2="115.0" stroke="#8f9ba1" stroke-width="1.5" stroke-linecap="butt"/>
<line x1="995.0" y1="169.0" x2="1013.5" y2="169.0" stroke="#8f9ba1" stroke-width="1.5" stroke-linecap="butt"/>
<line x1="1053.3" y1="134.6" x2="1053.3" y2="172.6" stroke="#8f9ba1" stroke-width="1.5" stroke-linecap="butt"/>
<line x1="1044.0" y1="134.6" x2="1062.5" y2="134.6" stroke="#8f9ba1" stroke-width="1.5" stroke-linecap="butt"/>
<line x1="1044.0" y1="172.6" x2="1062.5" y2="172.6" stroke="#8f9ba1" stroke-width="1.5" stroke-linecap="butt"/>
<line x1="1102.4" y1="110.6" x2="1102.4" y2="156.6" stroke="#8f9ba1" stroke-width="1.5" stroke-linecap="butt"/>
<line x1="1093.2" y1="110.6" x2="1111.7" y2="110.6" stroke="#8f9ba1" stroke-width="1.5" stroke-linecap="butt"/>
<line x1="1093.2" y1="156.6" x2="1111.7" y2="156.6" stroke="#8f9ba1" stroke-width="1.5" stroke-linecap="butt"/>
<line x1="1151.5" y1="204.0" x2="1151.5" y2="216.0" stroke="#8f9ba1" stroke-width="1.5" stroke-linecap="butt"/>
<line x1="1142.2" y1="204.0" x2="1160.8" y2="204.0" stroke="#8f9ba1" stroke-width="1.5" stroke-linecap="butt"/>
<line x1="1249.7" y1="277.5" x2="1249.7" y2="294.5" stroke="#8f9ba1" stroke-width="1.5" stroke-linecap="butt"/>
<line x1="1240.5" y1="277.5" x2="1259.0" y2="277.5" stroke="#8f9ba1" stroke-width="1.5" stroke-linecap="butt"/>
<line x1="1298.8" y1="327.7" x2="1298.8" y2="342.0" stroke="#8f9ba1" stroke-width="1.5" stroke-linecap="butt"/>
<line x1="1289.6" y1="327.7" x2="1308.1" y2="327.7" stroke="#8f9ba1" stroke-width="1.5" stroke-linecap="butt"/>
<line x1="1347.9" y1="365.8" x2="1347.9" y2="399.6" stroke="#8f9ba1" stroke-width="1.5" stroke-linecap="butt"/>
<line x1="1338.7" y1="365.8" x2="1357.2" y2="365.8" stroke="#8f9ba1" stroke-width="1.5" stroke-linecap="butt"/>
<line x1="1338.7" y1="399.6" x2="1357.2" y2="399.6" stroke="#8f9ba1" stroke-width="1.5" stroke-linecap="butt"/>
<path d="M1004.2,132.1 L1014.0,151.9 L994.4,151.9Z" fill="#8f9ba1"/>
<path d="M1053.3,143.7 L1063.1,163.5 L1043.5,163.5Z" fill="#8f9ba1"/>
<path d="M1102.4,123.7 L1112.2,143.5 L1092.6,143.5Z" fill="#8f9ba1"/>
<path d="M1151.5,206.1 L1161.3,225.9 L1141.7,225.9Z" fill="#8f9ba1"/>
<path d="M1200.6,249.6 L1210.4,269.4 L1190.8,269.4Z" fill="#8f9ba1"/>
<path d="M1249.7,284.6 L1259.5,304.4 L1239.9,304.4Z" fill="#8f9ba1"/>
<path d="M1298.8,332.1 L1308.6,351.9 L1289.0,351.9Z" fill="#8f9ba1"/>
<path d="M1347.9,372.8 L1357.7,392.6 L1338.1,392.6Z" fill="#8f9ba1"/>
<path d="M1397.0,419.1 L1406.8,438.9 L1387.2,438.9Z" fill="#8f9ba1"/>
<path d="M1446.1,469.1 L1455.9,488.9 L1436.3,488.9Z" fill="#8f9ba1"/>
<line x1="1004.2" y1="158.6" x2="1004.2" y2="188.6" stroke="#1b1c20" stroke-width="1.9" stroke-linecap="butt"/>
<line x1="995.0" y1="158.6" x2="1013.5" y2="158.6" stroke="#1b1c20" stroke-width="1.9" stroke-linecap="butt"/>
<line x1="995.0" y1="188.6" x2="1013.5" y2="188.6" stroke="#1b1c20" stroke-width="1.9" stroke-linecap="butt"/>
<line x1="1053.3" y1="164.0" x2="1053.3" y2="200.0" stroke="#1b1c20" stroke-width="1.9" stroke-linecap="butt"/>
<line x1="1044.0" y1="164.0" x2="1062.5" y2="164.0" stroke="#1b1c20" stroke-width="1.9" stroke-linecap="butt"/>
<line x1="1044.0" y1="200.0" x2="1062.5" y2="200.0" stroke="#1b1c20" stroke-width="1.9" stroke-linecap="butt"/>
<line x1="1102.4" y1="171.4" x2="1102.4" y2="229.4" stroke="#1b1c20" stroke-width="1.9" stroke-linecap="butt"/>
<line x1="1093.2" y1="171.4" x2="1111.7" y2="171.4" stroke="#1b1c20" stroke-width="1.9" stroke-linecap="butt"/>
<line x1="1093.2" y1="229.4" x2="1111.7" y2="229.4" stroke="#1b1c20" stroke-width="1.9" stroke-linecap="butt"/>
<line x1="1151.5" y1="212.8" x2="1151.5" y2="246.8" stroke="#1b1c20" stroke-width="1.9" stroke-linecap="butt"/>
<line x1="1142.2" y1="212.8" x2="1160.8" y2="212.8" stroke="#1b1c20" stroke-width="1.9" stroke-linecap="butt"/>
<line x1="1142.2" y1="246.8" x2="1160.8" y2="246.8" stroke="#1b1c20" stroke-width="1.9" stroke-linecap="butt"/>
<line x1="1200.6" y1="257.6" x2="1200.6" y2="301.6" stroke="#1b1c20" stroke-width="1.9" stroke-linecap="butt"/>
<line x1="1191.4" y1="257.6" x2="1209.9" y2="257.6" stroke="#1b1c20" stroke-width="1.9" stroke-linecap="butt"/>
<line x1="1191.4" y1="301.6" x2="1209.9" y2="301.6" stroke="#1b1c20" stroke-width="1.9" stroke-linecap="butt"/>
<line x1="1249.7" y1="276.6" x2="1249.7" y2="336.6" stroke="#1b1c20" stroke-width="1.9" stroke-linecap="butt"/>
<line x1="1240.5" y1="276.6" x2="1259.0" y2="276.6" stroke="#1b1c20" stroke-width="1.9" stroke-linecap="butt"/>
<line x1="1240.5" y1="336.6" x2="1259.0" y2="336.6" stroke="#1b1c20" stroke-width="1.9" stroke-linecap="butt"/>
<line x1="1298.8" y1="315.8" x2="1298.8" y2="367.8" stroke="#1b1c20" stroke-width="1.9" stroke-linecap="butt"/>
<line x1="1289.6" y1="315.8" x2="1308.1" y2="315.8" stroke="#1b1c20" stroke-width="1.9" stroke-linecap="butt"/>
<line x1="1289.6" y1="367.8" x2="1308.1" y2="367.8" stroke="#1b1c20" stroke-width="1.9" stroke-linecap="butt"/>
<line x1="1347.9" y1="369.5" x2="1347.9" y2="405.5" stroke="#1b1c20" stroke-width="1.9" stroke-linecap="butt"/>
<line x1="1338.7" y1="369.5" x2="1357.2" y2="369.5" stroke="#1b1c20" stroke-width="1.9" stroke-linecap="butt"/>
<line x1="1338.7" y1="405.5" x2="1357.2" y2="405.5" stroke="#1b1c20" stroke-width="1.9" stroke-linecap="butt"/>
<line x1="1397.0" y1="404.6" x2="1397.0" y2="452.6" stroke="#1b1c20" stroke-width="1.9" stroke-linecap="butt"/>
<line x1="1387.8" y1="404.6" x2="1406.2" y2="404.6" stroke="#1b1c20" stroke-width="1.9" stroke-linecap="butt"/>
<line x1="1387.8" y1="452.6" x2="1406.2" y2="452.6" stroke="#1b1c20" stroke-width="1.9" stroke-linecap="butt"/>
<line x1="1446.1" y1="452.2" x2="1446.1" y2="475.2" stroke="#1b1c20" stroke-width="1.9" stroke-linecap="butt"/>
<line x1="1436.9" y1="452.2" x2="1455.4" y2="452.2" stroke="#1b1c20" stroke-width="1.9" stroke-linecap="butt"/>
<line x1="1436.9" y1="475.2" x2="1455.4" y2="475.2" stroke="#1b1c20" stroke-width="1.9" stroke-linecap="butt"/>
<circle cx="1004.2" cy="173.6" r="9.75" fill="#1b1c20"/>
<circle cx="1053.3" cy="182.0" r="9.75" fill="#1b1c20"/>
<circle cx="1102.4" cy="200.4" r="9.75" fill="#1b1c20"/>
<circle cx="1151.5" cy="229.8" r="9.75" fill="#1b1c20"/>
<circle cx="1200.6" cy="279.6" r="9.75" fill="#1b1c20"/>
<circle cx="1249.7" cy="306.6" r="9.75" fill="#1b1c20"/>
<circle cx="1298.8" cy="341.8" r="9.75" fill="#1b1c20"/>
<circle cx="1347.9" cy="387.5" r="9.75" fill="#1b1c20"/>
<circle cx="1397.0" cy="428.6" r="9.75" fill="#1b1c20"/>
<circle cx="1446.1" cy="463.7" r="9.75" fill="#1b1c20"/>
<text x="1348.5" y="89.0" font-size="24" fill="#1b1c20" text-anchor="start" font-weight="normal" font-style="normal">AUC: 174</text>
<text x="1348.5" y="118.0" font-size="24" fill="#1b1c20">IC<tspan font-size="14" dy="8">50</tspan><tspan dy="-8">: 633nM</tspan></text>
<text x="1348.5" y="164.8" font-size="24" fill="#6f7c7d" text-anchor="start" font-weight="normal" font-style="normal">AUC: 187</text>
<text x="1348.5" y="193.8" font-size="24" fill="#6f7c7d">IC<tspan font-size="14" dy="8">50</tspan><tspan dy="-8">: 731nM</tspan></text>
<text x="1348.5" y="241.3" font-size="24" fill="#e8152a" text-anchor="start" font-weight="normal" font-style="normal">AUC: 90</text>
<text x="1348.5" y="270.3" font-size="24" fill="#e8152a">IC<tspan font-size="14" dy="8">50</tspan><tspan dy="-8">: 69nM</tspan></text>
<line x1="457.6" y1="603.2" x2="457.6" y2="1062.2" stroke="#1b1c20" stroke-width="2.0" stroke-linecap="butt"/>
<line x1="449.6" y1="1061.2" x2="904.5" y2="1061.2" stroke="#1b1c20" stroke-width="2.0" stroke-linecap="butt"/>
<text x="443.6" y="1076.0" font-size="36" fill="#1b1c20" text-anchor="end" font-weight="normal" font-style="normal" stroke="#1b1c20" stroke-width="0.5">0</text>
<line x1="449.6" y1="969.8" x2="457.6" y2="969.8" stroke="#1b1c20" stroke-width="2.0" stroke-linecap="butt"/>
<text x="443.6" y="983.9" font-size="36" fill="#1b1c20" text-anchor="end" font-weight="normal" font-style="normal" stroke="#1b1c20" stroke-width="0.5">26</text>
<line x1="449.6" y1="878.4" x2="457.6" y2="878.4" stroke="#1b1c20" stroke-width="2.0" stroke-linecap="butt"/>
<text x="443.6" y="891.8" font-size="36" fill="#1b1c20" text-anchor="end" font-weight="normal" font-style="normal" stroke="#1b1c20" stroke-width="0.5">52</text>
<line x1="449.6" y1="787.0" x2="457.6" y2="787.0" stroke="#1b1c20" stroke-width="2.0" stroke-linecap="butt"/>
<text x="443.6" y="799.7" font-size="36" fill="#1b1c20" text-anchor="end" font-weight="normal" font-style="normal" stroke="#1b1c20" stroke-width="0.5">78</text>
<line x1="449.6" y1="695.6" x2="457.6" y2="695.6" stroke="#1b1c20" stroke-width="2.0" stroke-linecap="butt"/>
<text x="443.6" y="707.6" font-size="36" fill="#1b1c20" text-anchor="end" font-weight="normal" font-style="normal" stroke="#1b1c20" stroke-width="0.5">104</text>
<line x1="449.6" y1="604.2" x2="457.6" y2="604.2" stroke="#1b1c20" stroke-width="2.0" stroke-linecap="butt"/>
<text x="443.6" y="615.5" font-size="36" fill="#1b1c20" text-anchor="end" font-weight="normal" font-style="normal" stroke="#1b1c20" stroke-width="0.5">130</text>
<line x1="459.5" y1="1061.2" x2="459.5" y2="1069.2" stroke="#1b1c20" stroke-width="2.0" stroke-linecap="butt"/>
<text x="461.0" y="1099.5" font-size="36" fill="#1b1c20" text-anchor="middle" font-weight="normal" font-style="normal" stroke="#1b1c20" stroke-width="0.5">-8</text>
<line x1="624.5" y1="1061.2" x2="624.5" y2="1069.2" stroke="#1b1c20" stroke-width="2.0" stroke-linecap="butt"/>
<text x="626.7" y="1099.5" font-size="36" fill="#1b1c20" text-anchor="middle" font-weight="normal" font-style="normal" stroke="#1b1c20" stroke-width="0.5">-7</text>
<line x1="788.6" y1="1061.2" x2="788.6" y2="1069.2" stroke="#1b1c20" stroke-width="2.0" stroke-linecap="butt"/>
<text x="792.2" y="1099.5" font-size="36" fill="#1b1c20" text-anchor="middle" font-weight="normal" font-style="normal" stroke="#1b1c20" stroke-width="0.5">-6</text>
<text x="473.0" y="622.8" font-size="36" fill="#1b1c20" text-anchor="start" font-weight="normal" font-style="normal" stroke="#1b1c20" stroke-width="0.5">NOMO-1</text>
<path d="M458.5,729.8 L464.1,730.7 L469.7,731.6 L475.3,732.5 L481.0,733.5 L486.6,734.5 L492.2,735.6 L497.8,736.7 L503.4,737.9 L509.0,739.1 L514.7,740.3 L520.3,741.6 L525.9,742.9 L531.5,744.3 L537.1,745.8 L542.7,747.3 L548.4,748.9 L554.0,750.5 L559.6,752.2 L565.2,753.9 L570.8,755.7 L576.4,757.6 L582.1,759.5 L587.7,761.5 L593.3,763.5 L598.9,765.6 L604.5,767.8 L610.1,770.1 L615.8,772.4 L621.4,774.8 L627.0,777.2 L632.6,779.7 L638.2,782.3 L643.8,785.0 L649.5,787.7 L655.1,790.5 L660.7,793.4 L666.3,796.3 L671.9,799.3 L677.5,802.3 L683.2,805.4 L688.8,808.6 L694.4,811.8 L700.0,815.1 L705.6,818.5 L711.2,821.9 L716.9,825.3 L722.5,828.8 L728.1,832.3 L733.7,835.9 L739.3,839.5 L744.9,843.2 L750.6,846.8 L756.2,850.5 L761.8,854.3 L767.4,858.0 L773.0,861.8 L778.6,865.5 L784.3,869.3 L789.9,873.1 L795.5,876.8 L801.1,880.6 L806.7,884.3 L812.3,888.1 L818.0,891.8 L823.6,895.5 L829.2,899.2 L834.8,902.8 L840.4,906.4 L846.0,910.0 L851.7,913.5 L857.3,917.0 L862.9,920.4 L868.5,923.8 L874.1,927.1 L879.7,930.4 L885.4,933.6 L891.0,936.8 L896.6,939.9 L902.2,942.9" fill="none" stroke="#f60a21" stroke-width="1.6"/>
<path d="M458.5,716.6 L464.1,716.7 L469.7,716.9 L475.3,717.0 L481.0,717.1 L486.6,717.2 L492.2,717.3 L497.8,717.5 L503.4,717.6 L509.0,717.8 L514.7,717.9 L520.3,718.1 L525.9,718.3 L531.5,718.4 L537.1,718.6 L542.7,718.8 L548.4,719.0 L554.0,719.2 L559.6,719.4 L565.2,719.7 L570.8,719.9 L576.4,720.2 L582.1,720.4 L587.7,720.7 L593.3,721.0 L598.9,721.3 L604.5,721.6 L610.1,721.9 L615.8,722.2 L621.4,722.6 L627.0,723.0 L632.6,723.3 L638.2,723.7 L643.8,724.1 L649.5,724.6 L655.1,725.0 L660.7,725.5 L666.3,725.9 L671.9,726.4 L677.5,726.9 L683.2,727.5 L688.8,728.0 L694.4,728.6 L700.0,729.2 L705.6,729.8 L711.2,730.4 L716.9,731.1 L722.5,731.7 L728.1,732.4 L733.7,733.1 L739.3,733.9 L744.9,734.6 L750.6,735.4 L756.2,736.2 L761.8,737.0 L767.4,737.9 L773.0,738.7 L778.6,739.6 L784.3,740.5 L789.9,741.4 L795.5,742.4 L801.1,743.4 L806.7,744.4 L812.3,745.4 L818.0,746.4 L823.6,747.4 L829.2,748.5 L834.8,749.6 L840.4,750.6 L846.0,751.8 L851.7,752.9 L857.3,754.0 L862.9,755.1 L868.5,756.3 L874.1,757.5 L879.7,758.6 L885.4,759.8 L891.0,761.0 L896.6,762.1 L902.2,763.3" fill="none" stroke="#8f9ba1" stroke-width="1.7"/>
<path d="M458.5,713.5 L464.1,713.6 L469.7,713.7 L475.3,713.9 L481.0,714.0 L486.6,714.2 L492.2,714.3 L497.8,714.5 L503.4,714.7 L509.0,714.9 L514.7,715.1 L520.3,715.3 L525.9,715.5 L531.5,715.7 L537.1,715.9 L542.7,716.1 L548.4,716.4 L554.0,716.6 L559.6,716.9 L565.2,717.2 L570.8,717.4 L576.4,717.7 L582.1,718.0 L587.7,718.3 L593.3,718.7 L598.9,719.0 L604.5,719.4 L610.1,719.7 L615.8,720.1 L621.4,720.5 L627.0,720.9 L632.6,721.4 L638.2,721.8 L643.8,722.3 L649.5,722.8 L655.1,723.2 L660.7,723.8 L666.3,724.3 L671.9,724.9 L677.5,725.4 L683.2,726.0 L688.8,726.6 L694.4,727.3 L700.0,727.9 L705.6,728.6 L711.2,729.3 L716.9,730.1 L722.5,730.8 L728.1,731.6 L733.7,732.4 L739.3,733.3 L744.9,734.2 L750.6,735.0 L756.2,736.0 L761.8,736.9 L767.4,737.9 L773.0,738.9 L778.6,740.0 L784.3,741.1 L789.9,742.2 L795.5,743.4 L801.1,744.5 L806.7,745.8 L812.3,747.0 L818.0,748.3 L823.6,749.6 L829.2,751.0 L834.8,752.4 L840.4,753.8 L846.0,755.3 L851.7,756.8 L857.3,758.4 L862.9,760.0 L868.5,761.6 L874.1,763.2 L879.7,764.9 L885.4,766.7 L891.0,768.4 L896.6,770.2 L902.2,772.1" fill="none" stroke="#1b1c20" stroke-width="2.0"/>
<line x1="458.5" y1="679.4" x2="458.5" y2="801.4" stroke="#f60a21" stroke-width="1.4" stroke-linecap="butt"/>
<line x1="449.2" y1="679.4" x2="467.8" y2="679.4" stroke="#f60a21" stroke-width="1.4" stroke-linecap="butt"/>
<line x1="449.2" y1="801.4" x2="467.8" y2="801.4" stroke="#f60a21" stroke-width="1.4" stroke-linecap="butt"/>
<line x1="507.8" y1="704.7" x2="507.8" y2="782.7" stroke="#f60a21" stroke-width="1.4" stroke-linecap="butt"/>
<line x1="498.6" y1="704.7" x2="517.0" y2="704.7" stroke="#f60a21" stroke-width="1.4" stroke-linecap="butt"/>
<line x1="498.6" y1="782.7" x2="517.0" y2="782.7" stroke="#f60a21" stroke-width="1.4" stroke-linecap="butt"/>
<line x1="557.1" y1="712.5" x2="557.1" y2="783.5" stroke="#f60a21" stroke-width="1.4" stroke-linecap="butt"/>
<line x1="547.9" y1="712.5" x2="566.4" y2="712.5" stroke="#f60a21" stroke-width="1.4" stroke-linecap="butt"/>
<line x1="547.9" y1="783.5" x2="566.4" y2="783.5" stroke="#f60a21" stroke-width="1.4" stroke-linecap="butt"/>
<line x1="606.4" y1="710.8" x2="606.4" y2="806.8" stroke="#f60a21" stroke-width="1.4" stroke-linecap="butt"/>
<line x1="597.1" y1="710.8" x2="615.6" y2="710.8" stroke="#f60a21" stroke-width="1.4" stroke-linecap="butt"/>
<line x1="597.1" y1="806.8" x2="615.6" y2="806.8" stroke="#f60a21" stroke-width="1.4" stroke-linecap="butt"/>
<line x1="655.7" y1="750.8" x2="655.7" y2="816.8" stroke="#f60a21" stroke-width="1.4" stroke-linecap="butt"/>
<line x1="646.5" y1="750.8" x2="665.0" y2="750.8" stroke="#f60a21" stroke-width="1.4" stroke-linecap="butt"/>
<line x1="646.5" y1="816.8" x2="665.0" y2="816.8" stroke="#f60a21" stroke-width="1.4" stroke-linecap="butt"/>
<line x1="705.0" y1="801.0" x2="705.0" y2="843.0" stroke="#f60a21" stroke-width="1.4" stroke-linecap="butt"/>
<line x1="695.8" y1="801.0" x2="714.2" y2="801.0" stroke="#f60a21" stroke-width="1.4" stroke-linecap="butt"/>
<line x1="695.8" y1="843.0" x2="714.2" y2="843.0" stroke="#f60a21" stroke-width="1.4" stroke-linecap="butt"/>
<line x1="754.3" y1="796.5" x2="754.3" y2="861.5" stroke="#f60a21" stroke-width="1.4" stroke-linecap="butt"/>
<line x1="745.0" y1="796.5" x2="763.5" y2="796.5" stroke="#f60a21" stroke-width="1.4" stroke-linecap="butt"/>
<line x1="745.0" y1="861.5" x2="763.5" y2="861.5" stroke="#f60a21" stroke-width="1.4" stroke-linecap="butt"/>
<line x1="803.6" y1="869.5" x2="803.6" y2="909.5" stroke="#f60a21" stroke-width="1.4" stroke-linecap="butt"/>
<line x1="794.3" y1="869.5" x2="812.8" y2="869.5" stroke="#f60a21" stroke-width="1.4" stroke-linecap="butt"/>
<line x1="794.3" y1="909.5" x2="812.8" y2="909.5" stroke="#f60a21" stroke-width="1.4" stroke-linecap="butt"/>
<line x1="852.9" y1="906.2" x2="852.9" y2="946.2" stroke="#f60a21" stroke-width="1.4" stroke-linecap="butt"/>
<line x1="843.6" y1="906.2" x2="862.1" y2="906.2" stroke="#f60a21" stroke-width="1.4" stroke-linecap="butt"/>
<line x1="843.6" y1="946.2" x2="862.1" y2="946.2" stroke="#f60a21" stroke-width="1.4" stroke-linecap="butt"/>
<line x1="902.2" y1="922.6" x2="902.2" y2="959.4" stroke="#f60a21" stroke-width="1.4" stroke-linecap="butt"/>
<line x1="893.0" y1="922.6" x2="911.5" y2="922.6" stroke="#f60a21" stroke-width="1.4" stroke-linecap="butt"/>
<line x1="893.0" y1="959.4" x2="911.5" y2="959.4" stroke="#f60a21" stroke-width="1.4" stroke-linecap="butt"/>
<rect x="448.8" y="730.7" width="19.4" height="19.4" fill="#f60a21"/>
<rect x="498.1" y="734.0" width="19.4" height="19.4" fill="#f60a21"/>
<rect x="547.4" y="738.3" width="19.4" height="19.4" fill="#f60a21"/>
<rect x="596.7" y="749.1" width="19.4" height="19.4" fill="#f60a21"/>
<rect x="646.0" y="774.1" width="19.4" height="19.4" fill="#f60a21"/>
<rect x="695.3" y="812.3" width="19.4" height="19.4" fill="#f60a21"/>
<rect x="744.6" y="819.3" width="19.4" height="19.4" fill="#f60a21"/>
<rect x="793.9" y="879.8" width="19.4" height="19.4" fill="#f60a21"/>
<rect x="843.2" y="916.5" width="19.4" height="19.4" fill="#f60a21"/>
<rect x="892.5" y="931.3" width="19.4" height="19.4" fill="#f60a21"/>
<line x1="458.5" y1="705.7" x2="458.5" y2="741.7" stroke="#8f9ba1" stroke-width="1.5" stroke-linecap="butt"/>
<line x1="449.2" y1="705.7" x2="467.8" y2="705.7" stroke="#8f9ba1" stroke-width="1.5" stroke-linecap="butt"/>
<line x1="449.2" y1="741.7" x2="467.8" y2="741.7" stroke="#8f9ba1" stroke-width="1.5" stroke-linecap="butt"/>
<line x1="507.8" y1="695.3" x2="507.8" y2="755.3" stroke="#8f9ba1" stroke-width="1.5" stroke-linecap="butt"/>
<line x1="498.6" y1="695.3" x2="517.0" y2="695.3" stroke="#8f9ba1" stroke-width="1.5" stroke-linecap="butt"/>
<line x1="498.6" y1="755.3" x2="517.0" y2="755.3" stroke="#8f9ba1" stroke-width="1.5" stroke-linecap="butt"/>
<line x1="557.1" y1="700.0" x2="557.1" y2="744.0" stroke="#8f9ba1" stroke-width="1.5" stroke-linecap="butt"/>
<line x1="547.9" y1="700.0" x2="566.4" y2="700.0" stroke="#8f9ba1" stroke-width="1.5" stroke-linecap="butt"/>
<line x1="547.9" y1="744.0" x2="566.4" y2="744.0" stroke="#8f9ba1" stroke-width="1.5" stroke-linecap="butt"/>
<line x1="606.4" y1="701.3" x2="606.4" y2="729.3" stroke="#8f9ba1" stroke-width="1.5" stroke-linecap="butt"/>
<line x1="597.1" y1="701.3" x2="615.6" y2="701.3" stroke="#8f9ba1" stroke-width="1.5" stroke-linecap="butt"/>
<line x1="597.1" y1="729.3" x2="615.6" y2="729.3" stroke="#8f9ba1" stroke-width="1.5" stroke-linecap="butt"/>
<line x1="655.7" y1="698.0" x2="655.7" y2="746.0" stroke="#8f9ba1" stroke-width="1.5" stroke-linecap="butt"/>
<line x1="646.5" y1="698.0" x2="665.0" y2="698.0" stroke="#8f9ba1" stroke-width="1.5" stroke-linecap="butt"/>
<line x1="646.5" y1="746.0" x2="665.0" y2="746.0" stroke="#8f9ba1" stroke-width="1.5" stroke-linecap="butt"/>
<line x1="705.0" y1="727.5" x2="705.0" y2="756.5" stroke="#8f9ba1" stroke-width="1.5" stroke-linecap="butt"/>
<line x1="695.8" y1="727.5" x2="714.2" y2="727.5" stroke="#8f9ba1" stroke-width="1.5" stroke-linecap="butt"/>
<line x1="695.8" y1="756.5" x2="714.2" y2="756.5" stroke="#8f9ba1" stroke-width="1.5" stroke-linecap="butt"/>
<line x1="754.3" y1="725.4" x2="754.3" y2="745.4" stroke="#8f9ba1" stroke-width="1.5" stroke-linecap="butt"/>
<line x1="745.0" y1="725.4" x2="763.5" y2="725.4" stroke="#8f9ba1" stroke-width="1.5" stroke-linecap="butt"/>
<line x1="745.0" y1="745.4" x2="763.5" y2="745.4" stroke="#8f9ba1" stroke-width="1.5" stroke-linecap="butt"/>
<line x1="803.6" y1="717.4" x2="803.6" y2="763.4" stroke="#8f9ba1" stroke-width="1.5" stroke-linecap="butt"/>
<line x1="794.3" y1="717.4" x2="812.8" y2="717.4" stroke="#8f9ba1" stroke-width="1.5" stroke-linecap="butt"/>
<line x1="794.3" y1="763.4" x2="812.8" y2="763.4" stroke="#8f9ba1" stroke-width="1.5" stroke-linecap="butt"/>
<line x1="852.9" y1="732.0" x2="852.9" y2="762.0" stroke="#8f9ba1" stroke-width="1.5" stroke-linecap="butt"/>
<line x1="843.6" y1="732.0" x2="862.1" y2="732.0" stroke="#8f9ba1" stroke-width="1.5" stroke-linecap="butt"/>
<line x1="843.6" y1="762.0" x2="862.1" y2="762.0" stroke="#8f9ba1" stroke-width="1.5" stroke-linecap="butt"/>
<line x1="902.2" y1="755.0" x2="902.2" y2="779.0" stroke="#8f9ba1" stroke-width="1.5" stroke-linecap="butt"/>
<line x1="893.0" y1="755.0" x2="911.5" y2="755.0" stroke="#8f9ba1" stroke-width="1.5" stroke-linecap="butt"/>
<line x1="893.0" y1="779.0" x2="911.5" y2="779.0" stroke="#8f9ba1" stroke-width="1.5" stroke-linecap="butt"/>
<path d="M458.5,713.8 L468.3,733.6 L448.7,733.6Z" fill="#8f9ba1"/>
<path d="M507.8,715.4 L517.6,735.2 L498.0,735.2Z" fill="#8f9ba1"/>
<path d="M557.1,712.1 L566.9,731.9 L547.3,731.9Z" fill="#8f9ba1"/>
<path d="M606.4,705.4 L616.2,725.2 L596.6,725.2Z" fill="#8f9ba1"/>
<path d="M655.7,712.1 L665.5,731.9 L645.9,731.9Z" fill="#8f9ba1"/>
<path d="M705.0,732.1 L714.8,751.9 L695.2,751.9Z" fill="#8f9ba1"/>
<path d="M754.3,725.5 L764.1,745.3 L744.5,745.3Z" fill="#8f9ba1"/>
<path d="M803.6,730.5 L813.4,750.3 L793.8,750.3Z" fill="#8f9ba1"/>
<path d="M852.9,737.1 L862.7,756.9 L843.1,756.9Z" fill="#8f9ba1"/>
<path d="M902.2,757.1 L912.0,776.9 L892.4,776.9Z" fill="#8f9ba1"/>
<line x1="458.5" y1="696.0" x2="458.5" y2="730.0" stroke="#1b1c20" stroke-width="1.9" stroke-linecap="butt"/>
<line x1="449.2" y1="696.0" x2="467.8" y2="696.0" stroke="#1b1c20" stroke-width="1.9" stroke-linecap="butt"/>
<line x1="449.2" y1="730.0" x2="467.8" y2="730.0" stroke="#1b1c20" stroke-width="1.9" stroke-linecap="butt"/>
<line x1="507.8" y1="689.3" x2="507.8" y2="731.3" stroke="#1b1c20" stroke-width="1.9" stroke-linecap="butt"/>
<line x1="498.6" y1="689.3" x2="517.0" y2="689.3" stroke="#1b1c20" stroke-width="1.9" stroke-linecap="butt"/>
<line x1="498.6" y1="731.3" x2="517.0" y2="731.3" stroke="#1b1c20" stroke-width="1.9" stroke-linecap="butt"/>
<line x1="557.1" y1="699.7" x2="557.1" y2="735.7" stroke="#1b1c20" stroke-width="1.9" stroke-linecap="butt"/>
<line x1="547.9" y1="699.7" x2="566.4" y2="699.7" stroke="#1b1c20" stroke-width="1.9" stroke-linecap="butt"/>
<line x1="547.9" y1="735.7" x2="566.4" y2="735.7" stroke="#1b1c20" stroke-width="1.9" stroke-linecap="butt"/>
<line x1="606.4" y1="687.3" x2="606.4" y2="711.3" stroke="#1b1c20" stroke-width="1.9" stroke-linecap="butt"/>
<line x1="597.1" y1="687.3" x2="615.6" y2="687.3" stroke="#1b1c20" stroke-width="1.9" stroke-linecap="butt"/>
<line x1="597.1" y1="711.3" x2="615.6" y2="711.3" stroke="#1b1c20" stroke-width="1.9" stroke-linecap="butt"/>
<line x1="655.7" y1="709.4" x2="655.7" y2="751.4" stroke="#1b1c20" stroke-width="1.9" stroke-linecap="butt"/>
<line x1="646.5" y1="709.4" x2="665.0" y2="709.4" stroke="#1b1c20" stroke-width="1.9" stroke-linecap="butt"/>
<line x1="646.5" y1="751.4" x2="665.0" y2="751.4" stroke="#1b1c20" stroke-width="1.9" stroke-linecap="butt"/>
<line x1="705.0" y1="712.8" x2="705.0" y2="739.8" stroke="#1b1c20" stroke-width="1.9" stroke-linecap="butt"/>
<line x1="695.8" y1="712.8" x2="714.2" y2="712.8" stroke="#1b1c20" stroke-width="1.9" stroke-linecap="butt"/>
<line x1="695.8" y1="739.8" x2="714.2" y2="739.8" stroke="#1b1c20" stroke-width="1.9" stroke-linecap="butt"/>
<line x1="803.6" y1="731.2" x2="803.6" y2="754.2" stroke="#1b1c20" stroke-width="1.9" stroke-linecap="butt"/>
<line x1="794.3" y1="731.2" x2="812.8" y2="731.2" stroke="#1b1c20" stroke-width="1.9" stroke-linecap="butt"/>
<line x1="794.3" y1="754.2" x2="812.8" y2="754.2" stroke="#1b1c20" stroke-width="1.9" stroke-linecap="butt"/>
<line x1="852.9" y1="737.9" x2="852.9" y2="772.9" stroke="#1b1c20" stroke-width="1.9" stroke-linecap="butt"/>
<line x1="843.6" y1="737.9" x2="862.1" y2="737.9" stroke="#1b1c20" stroke-width="1.9" stroke-linecap="butt"/>
<line x1="843.6" y1="772.9" x2="862.1" y2="772.9" stroke="#1b1c20" stroke-width="1.9" stroke-linecap="butt"/>
<line x1="902.2" y1="760.5" x2="902.2" y2="791.5" stroke="#1b1c20" stroke-width="1.9" stroke-linecap="butt"/>
<line x1="893.0" y1="760.5" x2="911.5" y2="760.5" stroke="#1b1c20" stroke-width="1.9" stroke-linecap="butt"/>
<line x1="893.0" y1="791.5" x2="911.5" y2="791.5" stroke="#1b1c20" stroke-width="1.9" stroke-linecap="butt"/>
<circle cx="458.5" cy="713.0" r="9.75" fill="#1b1c20"/>
<circle cx="507.8" cy="710.3" r="9.75" fill="#1b1c20"/>
<circle cx="557.1" cy="717.7" r="9.75" fill="#1b1c20"/>
<circle cx="606.4" cy="699.3" r="9.75" fill="#1b1c20"/>
<circle cx="655.7" cy="730.4" r="9.75" fill="#1b1c20"/>
<circle cx="705.0" cy="726.3" r="9.75" fill="#1b1c20"/>
<circle cx="754.3" cy="748.7" r="9.75" fill="#1b1c20"/>
<circle cx="803.6" cy="742.7" r="9.75" fill="#1b1c20"/>
<circle cx="852.9" cy="755.4" r="9.75" fill="#1b1c20"/>
<circle cx="902.2" cy="776.0" r="9.75" fill="#1b1c20"/>
<text x="473.0" y="860.7" font-size="24" fill="#1b1c20" text-anchor="start" font-weight="normal" font-style="normal">AUC: 255</text>
<text x="473.0" y="889.7" font-size="24" fill="#1b1c20">IC<tspan font-size="14" dy="8">50</tspan><tspan dy="-8">: ND</tspan></text>
<text x="473.0" y="937.0" font-size="24" fill="#6f7c7d" text-anchor="start" font-weight="normal" font-style="normal">AUC: 254</text>
<text x="473.0" y="966.0" font-size="24" fill="#6f7c7d">IC<tspan font-size="14" dy="8">50</tspan><tspan dy="-8">: ND</tspan></text>
<text x="473.0" y="1012.7" font-size="24" fill="#e8152a" text-anchor="start" font-weight="normal" font-style="normal">AUC: 189</text>
<text x="473.0" y="1041.7" font-size="24" fill="#e8152a">IC<tspan font-size="14" dy="8">50</tspan><tspan dy="-8">: 1.4µM</tspan></text>
<line x1="1004.8" y1="603.2" x2="1004.8" y2="1062.2" stroke="#1b1c20" stroke-width="2.0" stroke-linecap="butt"/>
<line x1="996.8" y1="1061.2" x2="1458.0" y2="1061.2" stroke="#1b1c20" stroke-width="2.0" stroke-linecap="butt"/>
<text x="992.3" y="1076.0" font-size="36" fill="#1b1c20" text-anchor="end" font-weight="normal" font-style="normal" stroke="#1b1c20" stroke-width="0.5">0</text>
<line x1="996.8" y1="969.8" x2="1004.8" y2="969.8" stroke="#1b1c20" stroke-width="2.0" stroke-linecap="butt"/>
<text x="992.3" y="983.9" font-size="36" fill="#1b1c20" text-anchor="end" font-weight="normal" font-style="normal" stroke="#1b1c20" stroke-width="0.5">26</text>
<line x1="996.8" y1="878.4" x2="1004.8" y2="878.4" stroke="#1b1c20" stroke-width="2.0" stroke-linecap="butt"/>
<text x="992.3" y="891.8" font-size="36" fill="#1b1c20" text-anchor="end" font-weight="normal" font-style="normal" stroke="#1b1c20" stroke-width="0.5">52</text>
<line x1="996.8" y1="787.0" x2="1004.8" y2="787.0" stroke="#1b1c20" stroke-width="2.0" stroke-linecap="butt"/>
<text x="992.3" y="799.7" font-size="36" fill="#1b1c20" text-anchor="end" font-weight="normal" font-style="normal" stroke="#1b1c20" stroke-width="0.5">78</text>
<line x1="996.8" y1="695.6" x2="1004.8" y2="695.6" stroke="#1b1c20" stroke-width="2.0" stroke-linecap="butt"/>
<text x="992.3" y="707.6" font-size="36" fill="#1b1c20" text-anchor="end" font-weight="normal" font-style="normal" stroke="#1b1c20" stroke-width="0.5">104</text>
<line x1="996.8" y1="604.2" x2="1004.8" y2="604.2" stroke="#1b1c20" stroke-width="2.0" stroke-linecap="butt"/>
<text x="992.3" y="615.5" font-size="36" fill="#1b1c20" text-anchor="end" font-weight="normal" font-style="normal" stroke="#1b1c20" stroke-width="0.5">130</text>
<line x1="1006.8" y1="1061.2" x2="1006.8" y2="1069.2" stroke="#1b1c20" stroke-width="2.0" stroke-linecap="butt"/>
<text x="1008.8" y="1099.5" font-size="36" fill="#1b1c20" text-anchor="middle" font-weight="normal" font-style="normal" stroke="#1b1c20" stroke-width="0.5">-8</text>
<line x1="1173.9" y1="1061.2" x2="1173.9" y2="1069.2" stroke="#1b1c20" stroke-width="2.0" stroke-linecap="butt"/>
<text x="1175.2" y="1099.5" font-size="36" fill="#1b1c20" text-anchor="middle" font-weight="normal" font-style="normal" stroke="#1b1c20" stroke-width="0.5">-7</text>
<line x1="1340.3" y1="1061.2" x2="1340.3" y2="1069.2" stroke="#1b1c20" stroke-width="2.0" stroke-linecap="butt"/>
<text x="1343.0" y="1099.5" font-size="36" fill="#1b1c20" text-anchor="middle" font-weight="normal" font-style="normal" stroke="#1b1c20" stroke-width="0.5">-6</text>
<text x="1022.0" y="622.8" font-size="36" fill="#1b1c20" text-anchor="start" font-weight="normal" font-style="normal" stroke="#1b1c20" stroke-width="0.5">OCI-AML2</text>
<path d="M1005.8,968.6 L1011.5,973.4 L1017.2,978.2 L1022.9,982.8 L1028.6,987.3 L1034.3,991.8 L1040.0,996.0 L1045.7,1000.1 L1051.4,1004.1 L1057.1,1007.9 L1062.8,1011.5 L1068.5,1014.9 L1074.2,1018.2 L1079.9,1021.3 L1085.6,1024.2 L1091.3,1026.9 L1097.0,1029.5 L1102.7,1031.9 L1108.4,1034.1 L1114.1,1036.2 L1119.8,1038.2 L1125.5,1040.0 L1131.2,1041.7 L1136.9,1043.2 L1142.6,1044.7 L1148.3,1046.0 L1154.0,1047.2 L1159.8,1048.3 L1165.5,1049.4 L1171.2,1050.3 L1176.9,1051.2 L1182.6,1052.0 L1188.3,1052.8 L1194.0,1053.4 L1199.7,1054.1 L1205.4,1054.6 L1211.1,1055.2 L1216.8,1055.6 L1222.5,1056.1 L1228.2,1056.5 L1233.9,1056.9 L1239.6,1057.2 L1245.3,1057.5 L1251.0,1057.8 L1256.7,1058.0 L1262.4,1058.3 L1268.1,1058.5 L1273.8,1058.7 L1279.5,1058.8 L1285.2,1059.0 L1290.9,1059.2 L1296.6,1059.3 L1302.3,1059.4 L1308.0,1059.5 L1313.7,1059.6 L1319.4,1059.7 L1325.1,1059.8 L1330.8,1059.9 L1336.5,1060.0 L1342.2,1060.0 L1347.9,1060.1 L1353.6,1060.1 L1359.3,1060.2 L1365.0,1060.2 L1370.7,1060.3 L1376.4,1060.3 L1382.1,1060.3 L1387.8,1060.3 L1393.5,1060.3 L1399.2,1060.3 L1404.9,1060.3 L1410.6,1060.3 L1416.3,1060.3 L1422.0,1060.3 L1427.7,1060.3 L1433.4,1060.3 L1439.1,1060.3 L1444.8,1060.3 L1450.5,1060.3 L1456.2,1060.3" fill="none" stroke="#f60a21" stroke-width="1.6"/>
<path d="M1005.8,780.5 L1011.5,784.4 L1017.2,788.5 L1022.9,792.8 L1028.6,797.2 L1034.3,801.9 L1040.0,806.6 L1045.7,811.6 L1051.4,816.7 L1057.1,822.0 L1062.8,827.5 L1068.5,833.1 L1074.2,838.8 L1079.9,844.6 L1085.6,850.6 L1091.3,856.6 L1097.0,862.7 L1102.7,868.9 L1108.4,875.2 L1114.1,881.4 L1119.8,887.7 L1125.5,894.0 L1131.2,900.3 L1136.9,906.5 L1142.6,912.7 L1148.3,918.9 L1154.0,924.9 L1159.8,930.8 L1165.5,936.7 L1171.2,942.4 L1176.9,948.0 L1182.6,953.4 L1188.3,958.7 L1194.0,963.8 L1199.7,968.8 L1205.4,973.5 L1211.1,978.2 L1216.8,982.6 L1222.5,986.8 L1228.2,990.9 L1233.9,994.8 L1239.6,998.5 L1245.3,1002.1 L1251.0,1005.5 L1256.7,1008.7 L1262.4,1011.7 L1268.1,1014.6 L1273.8,1017.3 L1279.5,1019.9 L1285.2,1022.4 L1290.9,1024.7 L1296.6,1026.8 L1302.3,1028.9 L1308.0,1030.8 L1313.7,1032.6 L1319.4,1034.3 L1325.1,1035.9 L1330.8,1037.4 L1336.5,1038.8 L1342.2,1040.1 L1347.9,1041.3 L1353.6,1042.5 L1359.3,1043.6 L1365.0,1044.6 L1370.7,1045.5 L1376.4,1046.4 L1382.1,1047.2 L1387.8,1048.0 L1393.5,1048.7 L1399.2,1049.3 L1404.9,1050.0 L1410.6,1050.5 L1416.3,1051.1 L1422.0,1051.6 L1427.7,1052.0 L1433.4,1052.5 L1439.1,1052.9 L1444.8,1053.3 L1450.5,1053.6 L1456.2,1053.9" fill="none" stroke="#8f9ba1" stroke-width="1.7"/>
<path d="M1005.8,768.0 L1011.5,771.3 L1017.2,774.8 L1022.9,778.6 L1028.6,782.6 L1034.3,786.8 L1040.0,791.2 L1045.7,795.9 L1051.4,800.8 L1057.1,805.9 L1062.8,811.3 L1068.5,816.8 L1074.2,822.6 L1079.9,828.6 L1085.6,834.8 L1091.3,841.1 L1097.0,847.7 L1102.7,854.3 L1108.4,861.1 L1114.1,868.0 L1119.8,875.0 L1125.5,882.0 L1131.2,889.0 L1136.9,896.1 L1142.6,903.1 L1148.3,910.1 L1154.0,917.1 L1159.8,923.9 L1165.5,930.6 L1171.2,937.2 L1176.9,943.6 L1182.6,949.9 L1188.3,955.9 L1194.0,961.8 L1199.7,967.5 L1205.4,972.9 L1211.1,978.2 L1216.8,983.2 L1222.5,987.9 L1228.2,992.5 L1233.9,996.8 L1239.6,1000.8 L1245.3,1004.7 L1251.0,1008.3 L1256.7,1011.8 L1262.4,1015.0 L1268.1,1018.0 L1273.8,1020.9 L1279.5,1023.5 L1285.2,1026.0 L1290.9,1028.3 L1296.6,1030.5 L1302.3,1032.5 L1308.0,1034.4 L1313.7,1036.1 L1319.4,1037.7 L1325.1,1039.2 L1330.8,1040.6 L1336.5,1041.9 L1342.2,1043.1 L1347.9,1044.2 L1353.6,1045.2 L1359.3,1046.2 L1365.0,1047.0 L1370.7,1047.8 L1376.4,1048.6 L1382.1,1049.3 L1387.8,1049.9 L1393.5,1050.5 L1399.2,1051.0 L1404.9,1051.5 L1410.6,1052.0 L1416.3,1052.4 L1422.0,1052.8 L1427.7,1053.1 L1433.4,1053.5 L1439.1,1053.8 L1444.8,1054.0 L1450.5,1054.3 L1456.2,1054.5" fill="none" stroke="#1b1c20" stroke-width="2.0"/>
<line x1="1005.8" y1="926.5" x2="1005.8" y2="1004.1" stroke="#f60a21" stroke-width="1.4" stroke-linecap="butt"/>
<line x1="996.5" y1="926.5" x2="1015.0" y2="926.5" stroke="#f60a21" stroke-width="1.4" stroke-linecap="butt"/>
<line x1="996.5" y1="1004.1" x2="1015.0" y2="1004.1" stroke="#f60a21" stroke-width="1.4" stroke-linecap="butt"/>
<line x1="1055.8" y1="978.0" x2="1055.8" y2="1029.4" stroke="#f60a21" stroke-width="1.4" stroke-linecap="butt"/>
<line x1="1046.6" y1="978.0" x2="1065.1" y2="978.0" stroke="#f60a21" stroke-width="1.4" stroke-linecap="butt"/>
<line x1="1046.6" y1="1029.4" x2="1065.1" y2="1029.4" stroke="#f60a21" stroke-width="1.4" stroke-linecap="butt"/>
<line x1="1105.9" y1="1017.8" x2="1105.9" y2="1059.8" stroke="#f60a21" stroke-width="1.4" stroke-linecap="butt"/>
<line x1="1096.6" y1="1017.8" x2="1115.1" y2="1017.8" stroke="#f60a21" stroke-width="1.4" stroke-linecap="butt"/>
<line x1="1096.6" y1="1059.8" x2="1115.1" y2="1059.8" stroke="#f60a21" stroke-width="1.4" stroke-linecap="butt"/>
<line x1="1155.9" y1="1024.5" x2="1155.9" y2="1061.5" stroke="#f60a21" stroke-width="1.4" stroke-linecap="butt"/>
<line x1="1146.7" y1="1024.5" x2="1165.2" y2="1024.5" stroke="#f60a21" stroke-width="1.4" stroke-linecap="butt"/>
<line x1="1146.7" y1="1061.5" x2="1165.2" y2="1061.5" stroke="#f60a21" stroke-width="1.4" stroke-linecap="butt"/>
<line x1="1206.0" y1="1042.8" x2="1206.0" y2="1062.8" stroke="#f60a21" stroke-width="1.4" stroke-linecap="butt"/>
<line x1="1196.8" y1="1042.8" x2="1215.2" y2="1042.8" stroke="#f60a21" stroke-width="1.4" stroke-linecap="butt"/>
<line x1="1196.8" y1="1062.8" x2="1215.2" y2="1062.8" stroke="#f60a21" stroke-width="1.4" stroke-linecap="butt"/>
<rect x="996.1" y="955.6" width="19.4" height="19.4" fill="#f60a21"/>
<rect x="1046.1" y="994.0" width="19.4" height="19.4" fill="#f60a21"/>
<rect x="1096.2" y="1029.1" width="19.4" height="19.4" fill="#f60a21"/>
<rect x="1146.2" y="1033.3" width="19.4" height="19.4" fill="#f60a21"/>
<rect x="1196.3" y="1043.1" width="19.4" height="19.4" fill="#f60a21"/>
<rect x="1246.3" y="1045.1" width="19.4" height="19.4" fill="#f60a21"/>
<rect x="1296.4" y="1045.8" width="19.4" height="19.4" fill="#f60a21"/>
<rect x="1346.4" y="1049.2" width="19.4" height="19.4" fill="#f60a21"/>
<rect x="1396.5" y="1050.2" width="19.4" height="19.4" fill="#f60a21"/>
<rect x="1446.5" y="1046.3" width="19.4" height="19.4" fill="#f60a21"/>
<line x1="1005.8" y1="784.5" x2="1005.8" y2="794.5" stroke="#8f9ba1" stroke-width="1.5" stroke-linecap="butt"/>
<line x1="996.5" y1="794.5" x2="1015.0" y2="794.5" stroke="#8f9ba1" stroke-width="1.5" stroke-linecap="butt"/>
<line x1="1055.8" y1="805.0" x2="1055.8" y2="819.0" stroke="#8f9ba1" stroke-width="1.5" stroke-linecap="butt"/>
<line x1="1046.6" y1="819.0" x2="1065.1" y2="819.0" stroke="#8f9ba1" stroke-width="1.5" stroke-linecap="butt"/>
<line x1="1105.9" y1="869.4" x2="1105.9" y2="894.2" stroke="#8f9ba1" stroke-width="1.5" stroke-linecap="butt"/>
<line x1="1096.6" y1="869.4" x2="1115.1" y2="869.4" stroke="#8f9ba1" stroke-width="1.5" stroke-linecap="butt"/>
<line x1="1096.6" y1="894.2" x2="1115.1" y2="894.2" stroke="#8f9ba1" stroke-width="1.5" stroke-linecap="butt"/>
<line x1="1155.9" y1="928.0" x2="1155.9" y2="939.0" stroke="#8f9ba1" stroke-width="1.5" stroke-linecap="butt"/>
<line x1="1146.7" y1="939.0" x2="1165.2" y2="939.0" stroke="#8f9ba1" stroke-width="1.5" stroke-linecap="butt"/>
<line x1="1206.0" y1="963.7" x2="1206.0" y2="983.7" stroke="#8f9ba1" stroke-width="1.5" stroke-linecap="butt"/>
<line x1="1196.8" y1="963.7" x2="1215.2" y2="963.7" stroke="#8f9ba1" stroke-width="1.5" stroke-linecap="butt"/>
<line x1="1196.8" y1="983.7" x2="1215.2" y2="983.7" stroke="#8f9ba1" stroke-width="1.5" stroke-linecap="butt"/>
<path d="M1005.8,774.6 L1015.6,794.4 L996.0,794.4Z" fill="#8f9ba1"/>
<path d="M1055.8,795.1 L1065.6,814.9 L1046.0,814.9Z" fill="#8f9ba1"/>
<path d="M1105.9,871.9 L1115.7,891.7 L1096.1,891.7Z" fill="#8f9ba1"/>
<path d="M1155.9,918.1 L1165.7,937.9 L1146.1,937.9Z" fill="#8f9ba1"/>
<path d="M1206.0,963.8 L1215.8,983.6 L1196.2,983.6Z" fill="#8f9ba1"/>
<path d="M1256.0,993.8 L1265.8,1013.6 L1246.2,1013.6Z" fill="#8f9ba1"/>
<path d="M1306.1,1019.1 L1315.9,1038.9 L1296.3,1038.9Z" fill="#8f9ba1"/>
<path d="M1356.1,1031.1 L1365.9,1050.9 L1346.3,1050.9Z" fill="#8f9ba1"/>
<path d="M1406.2,1039.9 L1416.0,1059.7 L1396.4,1059.7Z" fill="#8f9ba1"/>
<path d="M1456.2,1046.1 L1466.0,1065.9 L1446.5,1065.9Z" fill="#8f9ba1"/>
<line x1="1005.8" y1="753.8" x2="1005.8" y2="787.2" stroke="#1b1c20" stroke-width="1.9" stroke-linecap="butt"/>
<line x1="996.5" y1="753.8" x2="1015.0" y2="753.8" stroke="#1b1c20" stroke-width="1.9" stroke-linecap="butt"/>
<line x1="996.5" y1="787.2" x2="1015.0" y2="787.2" stroke="#1b1c20" stroke-width="1.9" stroke-linecap="butt"/>
<line x1="1055.8" y1="786.1" x2="1055.8" y2="814.9" stroke="#1b1c20" stroke-width="1.9" stroke-linecap="butt"/>
<line x1="1046.6" y1="786.1" x2="1065.1" y2="786.1" stroke="#1b1c20" stroke-width="1.9" stroke-linecap="butt"/>
<line x1="1046.6" y1="814.9" x2="1065.1" y2="814.9" stroke="#1b1c20" stroke-width="1.9" stroke-linecap="butt"/>
<line x1="1105.9" y1="844.8" x2="1105.9" y2="871.8" stroke="#1b1c20" stroke-width="1.9" stroke-linecap="butt"/>
<line x1="1096.6" y1="844.8" x2="1115.1" y2="844.8" stroke="#1b1c20" stroke-width="1.9" stroke-linecap="butt"/>
<line x1="1096.6" y1="871.8" x2="1115.1" y2="871.8" stroke="#1b1c20" stroke-width="1.9" stroke-linecap="butt"/>
<line x1="1155.9" y1="911.9" x2="1155.9" y2="931.9" stroke="#1b1c20" stroke-width="1.9" stroke-linecap="butt"/>
<line x1="1146.7" y1="911.9" x2="1165.2" y2="911.9" stroke="#1b1c20" stroke-width="1.9" stroke-linecap="butt"/>
<line x1="1146.7" y1="931.9" x2="1165.2" y2="931.9" stroke="#1b1c20" stroke-width="1.9" stroke-linecap="butt"/>
<circle cx="1005.8" cy="770.5" r="9.75" fill="#1b1c20"/>
<circle cx="1055.8" cy="800.5" r="9.75" fill="#1b1c20"/>
<circle cx="1105.9" cy="858.3" r="9.75" fill="#1b1c20"/>
<circle cx="1155.9" cy="921.9" r="9.75" fill="#1b1c20"/>
<circle cx="1206.0" cy="974.7" r="9.75" fill="#1b1c20"/>
<circle cx="1256.0" cy="1008.7" r="9.75" fill="#1b1c20"/>
<circle cx="1306.1" cy="1032.8" r="9.75" fill="#1b1c20"/>
<circle cx="1356.1" cy="1044.5" r="9.75" fill="#1b1c20"/>
<circle cx="1406.2" cy="1051.5" r="9.75" fill="#1b1c20"/>
<circle cx="1456.2" cy="1057.2" r="9.75" fill="#1b1c20"/>
<text x="1348.5" y="633.5" font-size="24" fill="#1b1c20" text-anchor="start" font-weight="normal" font-style="normal">AUC: 81</text>
<text x="1348.5" y="662.5" font-size="24" fill="#1b1c20">IC<tspan font-size="14" dy="8">50</tspan><tspan dy="-8">: 53nM</tspan></text>
<text x="1348.5" y="709.3" font-size="24" fill="#6f7c7d" text-anchor="start" font-weight="normal" font-style="normal">AUC: 79</text>
<text x="1348.5" y="738.3" font-size="24" fill="#6f7c7d">IC<tspan font-size="14" dy="8">50</tspan><tspan dy="-8">: 47nM</tspan></text>
<text x="1348.5" y="784.8" font-size="24" fill="#e8152a" text-anchor="start" font-weight="normal" font-style="normal">AUC: 15</text>
<text x="1348.5" y="813.8" font-size="24" fill="#e8152a">IC<tspan font-size="14" dy="8">50</tspan><tspan dy="-8">: 4nM</tspan></text>
<text x="946.0" y="1154.6" font-size="36" fill="#1b1c20" text-anchor="middle" font-weight="normal" font-style="normal" stroke="#1b1c20" stroke-width="0.5" textLength="341.8" lengthAdjust="spacing">Log [Venetoclax (M)]</text>
<text x="354.0" y="566.0" font-size="36" fill="#1b1c20" text-anchor="middle" font-weight="normal" font-style="normal" stroke="#1b1c20" stroke-width="0.5" transform="rotate(-90 354.0 566.0)" textLength="397.2" lengthAdjust="spacing">Normalized Intensity (%)</text>
<line x1="1535.5" y1="476.8" x2="1586.0" y2="476.8" stroke="#1b1c20" stroke-width="1.9" stroke-linecap="butt"/>
<circle cx="1560.8" cy="476.8" r="10.24" fill="#1b1c20"/>
<text x="1594.3" y="485.5" font-size="31.5" fill="#1b1c20" text-anchor="start" font-weight="normal" font-style="normal" stroke="#1b1c20" stroke-width="0.5">DMSO</text>
<line x1="1535.5" y1="518.0" x2="1586.0" y2="518.0" stroke="#8f9ba1" stroke-width="1.5" stroke-linecap="butt"/>
<path d="M1560.8,507.6 L1571.0,528.4 L1550.5,528.4Z" fill="#8f9ba1"/>
<text x="1593.5" y="528.3" font-size="31.5" fill="#1b1c20" text-anchor="start" font-weight="normal" font-style="normal" stroke="#1b1c20" stroke-width="0.5">AZ2</text>
<line x1="1535.5" y1="559.8" x2="1586.0" y2="559.8" stroke="#f60a21" stroke-width="1.4" stroke-linecap="butt"/>
<rect x="1550.6" y="549.6" width="20.4" height="20.4" fill="#f60a21"/>
<text x="1593.5" y="570.5" font-size="31.5" fill="#1b1c20" text-anchor="start" font-weight="normal" font-style="normal" stroke="#1b1c20" stroke-width="0.5">ARM165</text>
<line x1="130.5" y1="1304.7" x2="130.5" y2="1782.2" stroke="#1b1c20" stroke-width="2.0" stroke-linecap="butt"/>
<line x1="122.5" y1="1781.2" x2="606.0" y2="1781.2" stroke="#1b1c20" stroke-width="2.0" stroke-linecap="butt"/>
<text x="115.5" y="1792.7" font-size="36" fill="#1b1c20" text-anchor="end" font-weight="normal" font-style="normal" stroke="#1b1c20" stroke-width="0.5">0</text>
<line x1="122.5" y1="1686.1" x2="130.5" y2="1686.1" stroke="#1b1c20" stroke-width="2.0" stroke-linecap="butt"/>
<text x="115.5" y="1697.6" font-size="36" fill="#1b1c20" text-anchor="end" font-weight="normal" font-style="normal" stroke="#1b1c20" stroke-width="0.5">26</text>
<line x1="122.5" y1="1591.0" x2="130.5" y2="1591.0" stroke="#1b1c20" stroke-width="2.0" stroke-linecap="butt"/>
<text x="115.5" y="1602.5" font-size="36" fill="#1b1c20" text-anchor="end" font-weight="normal" font-style="normal" stroke="#1b1c20" stroke-width="0.5">52</text>
<line x1="122.5" y1="1495.9" x2="130.5" y2="1495.9" stroke="#1b1c20" stroke-width="2.0" stroke-linecap="butt"/>
<text x="115.5" y="1507.4" font-size="36" fill="#1b1c20" text-anchor="end" font-weight="normal" font-style="normal" stroke="#1b1c20" stroke-width="0.5">78</text>
<line x1="122.5" y1="1400.8" x2="130.5" y2="1400.8" stroke="#1b1c20" stroke-width="2.0" stroke-linecap="butt"/>
<text x="115.5" y="1412.3" font-size="36" fill="#1b1c20" text-anchor="end" font-weight="normal" font-style="normal" stroke="#1b1c20" stroke-width="0.5">104</text>
<line x1="122.5" y1="1305.7" x2="130.5" y2="1305.7" stroke="#1b1c20" stroke-width="2.0" stroke-linecap="butt"/>
<text x="115.5" y="1317.2" font-size="36" fill="#1b1c20" text-anchor="end" font-weight="normal" font-style="normal" stroke="#1b1c20" stroke-width="0.5">130</text>
<line x1="188.5" y1="1781.2" x2="188.5" y2="1789.2" stroke="#1b1c20" stroke-width="2.0" stroke-linecap="butt"/>
<text x="188.5" y="1823.0" font-size="36" fill="#1b1c20" text-anchor="middle" font-weight="normal" font-style="normal" stroke="#1b1c20" stroke-width="0.5">-8</text>
<line x1="327.5" y1="1781.2" x2="327.5" y2="1789.2" stroke="#1b1c20" stroke-width="2.0" stroke-linecap="butt"/>
<text x="327.5" y="1823.0" font-size="36" fill="#1b1c20" text-anchor="middle" font-weight="normal" font-style="normal" stroke="#1b1c20" stroke-width="0.5">-7</text>
<line x1="466.5" y1="1781.2" x2="466.5" y2="1789.2" stroke="#1b1c20" stroke-width="2.0" stroke-linecap="butt"/>
<text x="466.5" y="1823.0" font-size="36" fill="#1b1c20" text-anchor="middle" font-weight="normal" font-style="normal" stroke="#1b1c20" stroke-width="0.5">-6</text>
<line x1="606.0" y1="1781.2" x2="606.0" y2="1789.2" stroke="#1b1c20" stroke-width="2.0" stroke-linecap="butt"/>
<text x="606.0" y="1823.0" font-size="36" fill="#1b1c20" text-anchor="middle" font-weight="normal" font-style="normal" stroke="#1b1c20" stroke-width="0.5">-5</text>
<path d="M131.7,1422.1 L136.5,1422.7 L141.2,1423.4 L146.0,1424.3 L150.7,1425.2 L155.5,1426.2 L160.2,1427.4 L165.0,1428.8 L169.7,1430.3 L174.5,1431.9 L179.2,1433.8 L184.0,1436.0 L188.8,1438.4 L193.5,1441.1 L198.3,1444.1 L203.0,1447.4 L207.8,1451.1 L212.5,1455.3 L217.3,1459.8 L222.0,1464.9 L226.8,1470.4 L231.6,1476.5 L236.3,1483.1 L241.1,1490.3 L245.8,1498.0 L250.6,1506.4 L255.3,1515.3 L260.1,1524.7 L264.8,1534.6 L269.6,1545.0 L274.3,1555.8 L279.1,1567.0 L283.9,1578.4 L288.6,1590.0 L293.4,1601.6 L298.1,1613.3 L302.9,1624.8 L307.6,1636.1 L312.4,1647.2 L317.1,1657.9 L321.9,1668.2 L326.7,1677.9 L331.4,1687.2 L336.2,1695.9 L340.9,1704.1 L345.7,1711.7 L350.4,1718.7 L355.2,1725.1 L359.9,1731.0 L364.7,1736.4 L369.5,1741.3 L374.2,1745.7 L379.0,1749.7 L383.7,1753.4 L388.5,1756.6 L393.2,1759.5 L398.0,1762.1 L402.7,1764.4 L407.5,1766.5 L412.2,1768.3 L417.0,1769.9 L421.8,1771.4 L426.5,1772.7 L431.3,1773.8 L436.0,1774.8 L440.8,1775.7 L445.5,1776.5 L450.3,1777.2 L455.0,1777.8 L459.8,1778.4 L464.6,1778.8 L469.3,1779.3 L474.1,1779.6 L478.8,1780.0 L483.6,1780.3 L488.3,1780.3 L493.1,1780.3 L497.8,1780.3 L502.6,1780.3 L507.4,1780.3" fill="none" stroke="#f60a21" stroke-width="1.5"/>
<path d="M131.7,1421.8 L136.5,1422.5 L141.2,1423.3 L146.0,1424.1 L150.7,1425.1 L155.5,1426.1 L160.2,1427.3 L165.0,1428.7 L169.7,1430.2 L174.5,1431.8 L179.2,1433.6 L184.0,1435.7 L188.8,1437.9 L193.5,1440.4 L198.3,1443.2 L203.0,1446.3 L207.8,1449.6 L212.5,1453.3 L217.3,1457.4 L222.0,1461.8 L226.8,1466.7 L231.6,1471.9 L236.3,1477.6 L241.1,1483.8 L245.8,1490.4 L250.6,1497.5 L255.3,1505.1 L260.1,1513.1 L264.8,1521.6 L269.6,1530.5 L274.3,1539.8 L279.1,1549.5 L283.9,1559.5 L288.6,1569.7 L293.4,1580.1 L298.1,1590.7 L302.9,1601.3 L307.6,1611.9 L312.4,1622.4 L317.1,1632.8 L321.9,1643.0 L326.7,1652.8 L331.4,1662.4 L336.2,1671.5 L340.9,1680.3 L345.7,1688.6 L350.4,1696.5 L355.2,1703.9 L359.9,1710.9 L364.7,1717.3 L369.5,1723.3 L374.2,1728.9 L379.0,1734.0 L383.7,1738.7 L388.5,1743.0 L393.2,1746.9 L398.0,1750.5 L402.7,1753.7 L407.5,1756.7 L412.2,1759.3 L417.0,1761.8 L421.8,1763.9 L426.5,1765.9 L431.3,1767.7 L436.0,1769.3 L440.8,1770.7 L445.5,1772.0 L450.3,1773.1 L455.0,1774.1 L459.8,1775.1 L464.6,1775.9 L469.3,1776.6 L474.1,1777.3 L478.8,1777.9 L483.6,1778.4 L488.3,1778.9 L493.1,1779.3 L497.8,1779.7 L502.6,1780.0 L507.4,1780.3" fill="none" stroke="#1b1c20" stroke-width="1.8"/>
<line x1="131.6" y1="1343.5" x2="131.6" y2="1490.5" stroke="#f60a21" stroke-width="1.4" stroke-linecap="butt"/>
<line x1="122.3" y1="1343.5" x2="140.8" y2="1343.5" stroke="#f60a21" stroke-width="1.4" stroke-linecap="butt"/>
<line x1="122.3" y1="1490.5" x2="140.8" y2="1490.5" stroke="#f60a21" stroke-width="1.4" stroke-linecap="butt"/>
<line x1="173.3" y1="1398.4" x2="173.3" y2="1492.4" stroke="#f60a21" stroke-width="1.4" stroke-linecap="butt"/>
<line x1="164.1" y1="1398.4" x2="182.6" y2="1398.4" stroke="#f60a21" stroke-width="1.4" stroke-linecap="butt"/>
<line x1="164.1" y1="1492.4" x2="182.6" y2="1492.4" stroke="#f60a21" stroke-width="1.4" stroke-linecap="butt"/>
<line x1="215.1" y1="1395.0" x2="215.1" y2="1485.8" stroke="#f60a21" stroke-width="1.4" stroke-linecap="butt"/>
<line x1="205.8" y1="1395.0" x2="224.3" y2="1395.0" stroke="#f60a21" stroke-width="1.4" stroke-linecap="butt"/>
<line x1="205.8" y1="1485.8" x2="224.3" y2="1485.8" stroke="#f60a21" stroke-width="1.4" stroke-linecap="butt"/>
<line x1="256.9" y1="1516.6" x2="256.9" y2="1556.6" stroke="#f60a21" stroke-width="1.4" stroke-linecap="butt"/>
<line x1="247.6" y1="1516.6" x2="266.1" y2="1516.6" stroke="#f60a21" stroke-width="1.4" stroke-linecap="butt"/>
<line x1="247.6" y1="1556.6" x2="266.1" y2="1556.6" stroke="#f60a21" stroke-width="1.4" stroke-linecap="butt"/>
<line x1="298.6" y1="1573.4" x2="298.6" y2="1650.2" stroke="#f60a21" stroke-width="1.4" stroke-linecap="butt"/>
<line x1="289.4" y1="1573.4" x2="307.9" y2="1573.4" stroke="#f60a21" stroke-width="1.4" stroke-linecap="butt"/>
<line x1="289.4" y1="1650.2" x2="307.9" y2="1650.2" stroke="#f60a21" stroke-width="1.4" stroke-linecap="butt"/>
<line x1="340.4" y1="1691.0" x2="340.4" y2="1733.0" stroke="#f60a21" stroke-width="1.4" stroke-linecap="butt"/>
<line x1="331.1" y1="1691.0" x2="349.6" y2="1691.0" stroke="#f60a21" stroke-width="1.4" stroke-linecap="butt"/>
<line x1="331.1" y1="1733.0" x2="349.6" y2="1733.0" stroke="#f60a21" stroke-width="1.4" stroke-linecap="butt"/>
<rect x="121.5" y="1406.9" width="20.2" height="20.2" fill="#f60a21"/>
<rect x="163.3" y="1435.3" width="20.2" height="20.2" fill="#f60a21"/>
<rect x="205.0" y="1430.3" width="20.2" height="20.2" fill="#f60a21"/>
<rect x="246.8" y="1526.5" width="20.2" height="20.2" fill="#f60a21"/>
<rect x="288.5" y="1601.7" width="20.2" height="20.2" fill="#f60a21"/>
<rect x="330.3" y="1701.9" width="20.2" height="20.2" fill="#f60a21"/>
<rect x="372.0" y="1749.7" width="20.2" height="20.2" fill="#f60a21"/>
<rect x="413.8" y="1765.4" width="20.2" height="20.2" fill="#f60a21"/>
<rect x="455.5" y="1759.7" width="20.2" height="20.2" fill="#f60a21"/>
<rect x="497.3" y="1741.3" width="20.2" height="20.2" fill="#f60a21"/>
<line x1="131.6" y1="1418.0" x2="131.6" y2="1466.0" stroke="#1b1c20" stroke-width="1.75" stroke-linecap="butt"/>
<line x1="122.3" y1="1418.0" x2="140.8" y2="1418.0" stroke="#1b1c20" stroke-width="1.75" stroke-linecap="butt"/>
<line x1="122.3" y1="1466.0" x2="140.8" y2="1466.0" stroke="#1b1c20" stroke-width="1.75" stroke-linecap="butt"/>
<line x1="173.3" y1="1426.0" x2="173.3" y2="1480.0" stroke="#1b1c20" stroke-width="1.75" stroke-linecap="butt"/>
<line x1="164.1" y1="1426.0" x2="182.6" y2="1426.0" stroke="#1b1c20" stroke-width="1.75" stroke-linecap="butt"/>
<line x1="164.1" y1="1480.0" x2="182.6" y2="1480.0" stroke="#1b1c20" stroke-width="1.75" stroke-linecap="butt"/>
<line x1="215.1" y1="1426.3" x2="215.1" y2="1479.1" stroke="#1b1c20" stroke-width="1.75" stroke-linecap="butt"/>
<line x1="205.8" y1="1426.3" x2="224.3" y2="1426.3" stroke="#1b1c20" stroke-width="1.75" stroke-linecap="butt"/>
<line x1="205.8" y1="1479.1" x2="224.3" y2="1479.1" stroke="#1b1c20" stroke-width="1.75" stroke-linecap="butt"/>
<line x1="256.9" y1="1489.2" x2="256.9" y2="1513.2" stroke="#1b1c20" stroke-width="1.75" stroke-linecap="butt"/>
<line x1="247.6" y1="1489.2" x2="266.1" y2="1489.2" stroke="#1b1c20" stroke-width="1.75" stroke-linecap="butt"/>
<line x1="247.6" y1="1513.2" x2="266.1" y2="1513.2" stroke="#1b1c20" stroke-width="1.75" stroke-linecap="butt"/>
<line x1="298.6" y1="1569.4" x2="298.6" y2="1600.6" stroke="#1b1c20" stroke-width="1.75" stroke-linecap="butt"/>
<line x1="289.4" y1="1569.4" x2="307.9" y2="1569.4" stroke="#1b1c20" stroke-width="1.75" stroke-linecap="butt"/>
<line x1="289.4" y1="1600.6" x2="307.9" y2="1600.6" stroke="#1b1c20" stroke-width="1.75" stroke-linecap="butt"/>
<circle cx="131.6" cy="1442.0" r="10.14" fill="#1b1c20"/>
<circle cx="173.3" cy="1453.0" r="10.14" fill="#1b1c20"/>
<circle cx="215.1" cy="1452.7" r="10.14" fill="#1b1c20"/>
<circle cx="256.9" cy="1501.2" r="10.14" fill="#1b1c20"/>
<circle cx="298.6" cy="1585.0" r="10.14" fill="#1b1c20"/>
<circle cx="340.4" cy="1677.0" r="10.14" fill="#1b1c20"/>
<circle cx="382.1" cy="1745.4" r="10.14" fill="#1b1c20"/>
<circle cx="423.9" cy="1771.2" r="10.14" fill="#1b1c20"/>
<circle cx="465.6" cy="1777.8" r="10.14" fill="#1b1c20"/>
<circle cx="507.4" cy="1778.2" r="10.14" fill="#1b1c20"/>
<text x="302.5" y="1492.0" font-size="32.5" fill="#1b1c20" text-anchor="start" font-weight="normal" font-style="normal" stroke="#1b1c20" stroke-width="0.5">AUC: 120</text>
<text x="302.5" y="1531.3" font-size="32.5" fill="#1b1c20">IC<tspan font-size="18.5" dy="10.5">50</tspan><tspan dy="-10.5">: 67nM</tspan></text>
<text x="415.5" y="1682.0" font-size="32.5" fill="#e8152a" text-anchor="start" font-weight="normal" font-style="normal" stroke="#e8152a" stroke-width="0.5">AUC: 115</text>
<text x="415.5" y="1721.3" font-size="32.5" fill="#e8152a">IC<tspan font-size="18.5" dy="10.5">50</tspan><tspan dy="-10.5">: 54nM</tspan></text>
<text x="379.8" y="1875.7" font-size="36" fill="#1b1c20" text-anchor="middle" font-weight="normal" font-style="normal" stroke="#1b1c20" stroke-width="0.5" textLength="332.7" lengthAdjust="spacing">Log [Cytarabine (M)]</text>
<line x1="708.5" y1="1304.7" x2="708.5" y2="1782.2" stroke="#1b1c20" stroke-width="2.0" stroke-linecap="butt"/>
<line x1="700.5" y1="1781.2" x2="1181.6" y2="1781.2" stroke="#1b1c20" stroke-width="2.0" stroke-linecap="butt"/>
<text x="693.5" y="1792.7" font-size="36" fill="#1b1c20" text-anchor="end" font-weight="normal" font-style="normal" stroke="#1b1c20" stroke-width="0.5">0</text>
<line x1="700.5" y1="1686.1" x2="708.5" y2="1686.1" stroke="#1b1c20" stroke-width="2.0" stroke-linecap="butt"/>
<text x="693.5" y="1697.6" font-size="36" fill="#1b1c20" text-anchor="end" font-weight="normal" font-style="normal" stroke="#1b1c20" stroke-width="0.5">26</text>
<line x1="700.5" y1="1591.0" x2="708.5" y2="1591.0" stroke="#1b1c20" stroke-width="2.0" stroke-linecap="butt"/>
<text x="693.5" y="1602.5" font-size="36" fill="#1b1c20" text-anchor="end" font-weight="normal" font-style="normal" stroke="#1b1c20" stroke-width="0.5">52</text>
<line x1="700.5" y1="1495.9" x2="708.5" y2="1495.9" stroke="#1b1c20" stroke-width="2.0" stroke-linecap="butt"/>
<text x="693.5" y="1507.4" font-size="36" fill="#1b1c20" text-anchor="end" font-weight="normal" font-style="normal" stroke="#1b1c20" stroke-width="0.5">78</text>
<line x1="700.5" y1="1400.8" x2="708.5" y2="1400.8" stroke="#1b1c20" stroke-width="2.0" stroke-linecap="butt"/>
<text x="693.5" y="1412.3" font-size="36" fill="#1b1c20" text-anchor="end" font-weight="normal" font-style="normal" stroke="#1b1c20" stroke-width="0.5">104</text>
<line x1="700.5" y1="1305.7" x2="708.5" y2="1305.7" stroke="#1b1c20" stroke-width="2.0" stroke-linecap="butt"/>
<text x="693.5" y="1317.2" font-size="36" fill="#1b1c20" text-anchor="end" font-weight="normal" font-style="normal" stroke="#1b1c20" stroke-width="0.5">130</text>
<line x1="757.6" y1="1781.2" x2="757.6" y2="1789.2" stroke="#1b1c20" stroke-width="2.0" stroke-linecap="butt"/>
<text x="757.6" y="1823.0" font-size="36" fill="#1b1c20" text-anchor="middle" font-weight="normal" font-style="normal" stroke="#1b1c20" stroke-width="0.5">-8</text>
<line x1="899.0" y1="1781.2" x2="899.0" y2="1789.2" stroke="#1b1c20" stroke-width="2.0" stroke-linecap="butt"/>
<text x="899.0" y="1823.0" font-size="36" fill="#1b1c20" text-anchor="middle" font-weight="normal" font-style="normal" stroke="#1b1c20" stroke-width="0.5">-7</text>
<line x1="1040.3" y1="1781.2" x2="1040.3" y2="1789.2" stroke="#1b1c20" stroke-width="2.0" stroke-linecap="butt"/>
<text x="1040.3" y="1823.0" font-size="36" fill="#1b1c20" text-anchor="middle" font-weight="normal" font-style="normal" stroke="#1b1c20" stroke-width="0.5">-6</text>
<line x1="1181.6" y1="1781.2" x2="1181.6" y2="1789.2" stroke="#1b1c20" stroke-width="2.0" stroke-linecap="butt"/>
<text x="1181.6" y="1823.0" font-size="36" fill="#1b1c20" text-anchor="middle" font-weight="normal" font-style="normal" stroke="#1b1c20" stroke-width="0.5">-5</text>
<path d="M713.4,1423.1 L718.2,1424.5 L723.1,1426.1 L727.9,1428.0 L732.8,1430.2 L737.6,1432.7 L742.5,1435.7 L747.3,1439.1 L752.2,1443.0 L757.0,1447.6 L761.9,1452.8 L766.7,1458.7 L771.6,1465.4 L776.4,1473.0 L781.3,1481.5 L786.1,1491.0 L791.0,1501.4 L795.8,1512.7 L800.7,1525.0 L805.5,1538.1 L810.4,1551.9 L815.2,1566.3 L820.1,1581.2 L824.9,1596.3 L829.8,1611.4 L834.7,1626.4 L839.5,1641.0 L844.4,1655.1 L849.2,1668.5 L854.1,1681.0 L858.9,1692.7 L863.8,1703.5 L868.6,1713.2 L873.5,1722.1 L878.3,1730.0 L883.2,1737.0 L888.0,1743.2 L892.9,1748.7 L897.7,1753.4 L902.6,1757.6 L907.4,1761.2 L912.3,1764.3 L917.1,1767.0 L922.0,1769.3 L926.8,1771.3 L931.7,1773.0 L936.5,1774.4 L941.4,1775.6 L946.2,1776.7 L951.1,1777.6 L955.9,1778.4 L960.8,1779.0 L965.6,1779.6 L970.5,1780.1 L975.3,1780.3 L980.2,1780.3 L985.0,1780.3 L989.9,1780.3 L994.7,1780.3 L999.6,1780.3 L1004.4,1780.3 L1009.3,1780.3 L1014.1,1780.3 L1019.0,1780.3 L1023.8,1780.3 L1028.7,1780.3 L1033.5,1780.3 L1038.4,1780.3 L1043.2,1780.3 L1048.1,1780.3 L1052.9,1780.3 L1057.8,1780.3 L1062.6,1780.3 L1067.5,1780.3 L1072.3,1780.3 L1077.2,1780.3 L1082.0,1780.3 L1086.9,1780.3 L1091.7,1780.3 L1096.6,1780.3" fill="none" stroke="#f60a21" stroke-width="1.5"/>
<path d="M713.4,1419.4 L718.2,1419.8 L723.1,1420.2 L727.9,1420.7 L732.8,1421.4 L737.6,1422.1 L742.5,1422.9 L747.3,1424.0 L752.2,1425.1 L757.0,1426.5 L761.9,1428.2 L766.7,1430.1 L771.6,1432.3 L776.4,1434.9 L781.3,1437.9 L786.1,1441.4 L791.0,1445.4 L795.8,1450.1 L800.7,1455.4 L805.5,1461.5 L810.4,1468.4 L815.2,1476.2 L820.1,1484.9 L824.9,1494.5 L829.8,1505.2 L834.7,1516.7 L839.5,1529.2 L844.4,1542.6 L849.2,1556.6 L854.1,1571.2 L858.9,1586.2 L863.8,1601.3 L868.6,1616.4 L873.5,1631.3 L878.3,1645.8 L883.2,1659.7 L888.0,1672.8 L892.9,1685.1 L897.7,1696.4 L902.6,1706.8 L907.4,1716.2 L912.3,1724.7 L917.1,1732.3 L922.0,1738.9 L926.8,1744.8 L931.7,1750.0 L936.5,1754.5 L941.4,1758.4 L946.2,1761.7 L951.1,1764.6 L955.9,1767.1 L960.8,1769.3 L965.6,1771.1 L970.5,1772.7 L975.3,1774.0 L980.2,1775.2 L985.0,1776.1 L989.9,1777.0 L994.7,1777.7 L999.6,1778.3 L1004.4,1778.8 L1009.3,1779.2 L1014.1,1779.6 L1019.0,1779.9 L1023.8,1780.1 L1028.7,1780.3 L1033.5,1780.3 L1038.4,1780.3 L1043.2,1780.3 L1048.1,1780.3 L1052.9,1780.3 L1057.8,1780.3 L1062.6,1780.3 L1067.5,1780.3 L1072.3,1780.3 L1077.2,1780.3 L1082.0,1780.3 L1086.9,1780.3 L1091.7,1780.3 L1096.6,1780.3" fill="none" stroke="#1b1c20" stroke-width="1.8"/>
<line x1="713.2" y1="1313.0" x2="713.2" y2="1513.0" stroke="#f60a21" stroke-width="1.4" stroke-linecap="butt"/>
<line x1="704.0" y1="1313.0" x2="722.5" y2="1313.0" stroke="#f60a21" stroke-width="1.4" stroke-linecap="butt"/>
<line x1="704.0" y1="1513.0" x2="722.5" y2="1513.0" stroke="#f60a21" stroke-width="1.4" stroke-linecap="butt"/>
<line x1="755.8" y1="1365.0" x2="755.8" y2="1499.0" stroke="#f60a21" stroke-width="1.4" stroke-linecap="butt"/>
<line x1="746.6" y1="1365.0" x2="765.1" y2="1365.0" stroke="#f60a21" stroke-width="1.4" stroke-linecap="butt"/>
<line x1="746.6" y1="1499.0" x2="765.1" y2="1499.0" stroke="#f60a21" stroke-width="1.4" stroke-linecap="butt"/>
<line x1="798.4" y1="1486.6" x2="798.4" y2="1584.6" stroke="#f60a21" stroke-width="1.4" stroke-linecap="butt"/>
<line x1="789.2" y1="1486.6" x2="807.7" y2="1486.6" stroke="#f60a21" stroke-width="1.4" stroke-linecap="butt"/>
<line x1="789.2" y1="1584.6" x2="807.7" y2="1584.6" stroke="#f60a21" stroke-width="1.4" stroke-linecap="butt"/>
<line x1="841.0" y1="1607.5" x2="841.0" y2="1679.5" stroke="#f60a21" stroke-width="1.4" stroke-linecap="butt"/>
<line x1="831.8" y1="1607.5" x2="850.2" y2="1607.5" stroke="#f60a21" stroke-width="1.4" stroke-linecap="butt"/>
<line x1="831.8" y1="1679.5" x2="850.2" y2="1679.5" stroke="#f60a21" stroke-width="1.4" stroke-linecap="butt"/>
<line x1="883.6" y1="1723.6" x2="883.6" y2="1750.4" stroke="#f60a21" stroke-width="1.4" stroke-linecap="butt"/>
<line x1="874.4" y1="1723.6" x2="892.9" y2="1723.6" stroke="#f60a21" stroke-width="1.4" stroke-linecap="butt"/>
<line x1="874.4" y1="1750.4" x2="892.9" y2="1750.4" stroke="#f60a21" stroke-width="1.4" stroke-linecap="butt"/>
<rect x="703.1" y="1402.9" width="20.2" height="20.2" fill="#f60a21"/>
<rect x="745.7" y="1421.9" width="20.2" height="20.2" fill="#f60a21"/>
<rect x="788.3" y="1525.5" width="20.2" height="20.2" fill="#f60a21"/>
<rect x="830.9" y="1633.4" width="20.2" height="20.2" fill="#f60a21"/>
<rect x="873.5" y="1726.9" width="20.2" height="20.2" fill="#f60a21"/>
<rect x="916.1" y="1764.4" width="20.2" height="20.2" fill="#f60a21"/>
<rect x="958.7" y="1767.7" width="20.2" height="20.2" fill="#f60a21"/>
<rect x="1001.3" y="1766.1" width="20.2" height="20.2" fill="#f60a21"/>
<rect x="1043.9" y="1761.4" width="20.2" height="20.2" fill="#f60a21"/>
<rect x="1086.5" y="1743.0" width="20.2" height="20.2" fill="#f60a21"/>
<line x1="713.2" y1="1387.8" x2="713.2" y2="1422.8" stroke="#1b1c20" stroke-width="1.75" stroke-linecap="butt"/>
<line x1="704.0" y1="1387.8" x2="722.5" y2="1387.8" stroke="#1b1c20" stroke-width="1.75" stroke-linecap="butt"/>
<line x1="704.0" y1="1422.8" x2="722.5" y2="1422.8" stroke="#1b1c20" stroke-width="1.75" stroke-linecap="butt"/>
<line x1="755.8" y1="1387.1" x2="755.8" y2="1452.1" stroke="#1b1c20" stroke-width="1.75" stroke-linecap="butt"/>
<line x1="746.6" y1="1387.1" x2="765.1" y2="1387.1" stroke="#1b1c20" stroke-width="1.75" stroke-linecap="butt"/>
<line x1="746.6" y1="1452.1" x2="765.1" y2="1452.1" stroke="#1b1c20" stroke-width="1.75" stroke-linecap="butt"/>
<line x1="798.4" y1="1438.7" x2="798.4" y2="1492.1" stroke="#1b1c20" stroke-width="1.75" stroke-linecap="butt"/>
<line x1="789.2" y1="1438.7" x2="807.7" y2="1438.7" stroke="#1b1c20" stroke-width="1.75" stroke-linecap="butt"/>
<line x1="789.2" y1="1492.1" x2="807.7" y2="1492.1" stroke="#1b1c20" stroke-width="1.75" stroke-linecap="butt"/>
<line x1="841.0" y1="1518.5" x2="841.0" y2="1557.5" stroke="#1b1c20" stroke-width="1.75" stroke-linecap="butt"/>
<line x1="831.8" y1="1518.5" x2="850.2" y2="1518.5" stroke="#1b1c20" stroke-width="1.75" stroke-linecap="butt"/>
<line x1="831.8" y1="1557.5" x2="850.2" y2="1557.5" stroke="#1b1c20" stroke-width="1.75" stroke-linecap="butt"/>
<circle cx="713.2" cy="1405.3" r="10.14" fill="#1b1c20"/>
<circle cx="755.8" cy="1419.6" r="10.14" fill="#1b1c20"/>
<circle cx="798.4" cy="1465.4" r="10.14" fill="#1b1c20"/>
<circle cx="841.0" cy="1538.0" r="10.14" fill="#1b1c20"/>
<circle cx="883.6" cy="1651.2" r="10.14" fill="#1b1c20"/>
<circle cx="926.2" cy="1759.5" r="10.14" fill="#1b1c20"/>
<circle cx="968.8" cy="1779.5" r="10.14" fill="#1b1c20"/>
<circle cx="1011.4" cy="1780.5" r="10.14" fill="#1b1c20"/>
<circle cx="1054.0" cy="1780.5" r="10.14" fill="#1b1c20"/>
<circle cx="1096.6" cy="1780.5" r="10.14" fill="#1b1c20"/>
<text x="870.8" y="1492.0" font-size="32.5" fill="#1b1c20" text-anchor="start" font-weight="normal" font-style="normal" stroke="#1b1c20" stroke-width="0.5">AUC: 104</text>
<text x="870.8" y="1531.3" font-size="32.5" fill="#1b1c20">IC<tspan font-size="18.5" dy="10.5">50</tspan><tspan dy="-10.5">: 55nM</tspan></text>
<text x="1003.5" y="1682.0" font-size="32.5" fill="#e8152a" text-anchor="start" font-weight="normal" font-style="normal" stroke="#e8152a" stroke-width="0.5">AUC: 82</text>
<text x="1003.5" y="1721.3" font-size="32.5" fill="#e8152a">IC<tspan font-size="18.5" dy="10.5">50</tspan><tspan dy="-10.5">: 30nM</tspan></text>
<line x1="1285.2" y1="1304.7" x2="1285.2" y2="1782.2" stroke="#1b1c20" stroke-width="2.0" stroke-linecap="butt"/>
<line x1="1277.2" y1="1781.2" x2="1760.6" y2="1781.2" stroke="#1b1c20" stroke-width="2.0" stroke-linecap="butt"/>
<text x="1270.2" y="1792.7" font-size="36" fill="#1b1c20" text-anchor="end" font-weight="normal" font-style="normal" stroke="#1b1c20" stroke-width="0.5">0</text>
<line x1="1277.2" y1="1686.1" x2="1285.2" y2="1686.1" stroke="#1b1c20" stroke-width="2.0" stroke-linecap="butt"/>
<text x="1270.2" y="1697.6" font-size="36" fill="#1b1c20" text-anchor="end" font-weight="normal" font-style="normal" stroke="#1b1c20" stroke-width="0.5">26</text>
<line x1="1277.2" y1="1591.0" x2="1285.2" y2="1591.0" stroke="#1b1c20" stroke-width="2.0" stroke-linecap="butt"/>
<text x="1270.2" y="1602.5" font-size="36" fill="#1b1c20" text-anchor="end" font-weight="normal" font-style="normal" stroke="#1b1c20" stroke-width="0.5">52</text>
<line x1="1277.2" y1="1495.9" x2="1285.2" y2="1495.9" stroke="#1b1c20" stroke-width="2.0" stroke-linecap="butt"/>
<text x="1270.2" y="1507.4" font-size="36" fill="#1b1c20" text-anchor="end" font-weight="normal" font-style="normal" stroke="#1b1c20" stroke-width="0.5">78</text>
<line x1="1277.2" y1="1400.8" x2="1285.2" y2="1400.8" stroke="#1b1c20" stroke-width="2.0" stroke-linecap="butt"/>
<text x="1270.2" y="1412.3" font-size="36" fill="#1b1c20" text-anchor="end" font-weight="normal" font-style="normal" stroke="#1b1c20" stroke-width="0.5">104</text>
<line x1="1277.2" y1="1305.7" x2="1285.2" y2="1305.7" stroke="#1b1c20" stroke-width="2.0" stroke-linecap="butt"/>
<text x="1270.2" y="1317.2" font-size="36" fill="#1b1c20" text-anchor="end" font-weight="normal" font-style="normal" stroke="#1b1c20" stroke-width="0.5">130</text>
<line x1="1289.5" y1="1781.2" x2="1289.5" y2="1789.2" stroke="#1b1c20" stroke-width="2.0" stroke-linecap="butt"/>
<text x="1289.5" y="1823.0" font-size="36" fill="#1b1c20" text-anchor="middle" font-weight="normal" font-style="normal" stroke="#1b1c20" stroke-width="0.5">-8</text>
<line x1="1446.6" y1="1781.2" x2="1446.6" y2="1789.2" stroke="#1b1c20" stroke-width="2.0" stroke-linecap="butt"/>
<text x="1446.6" y="1823.0" font-size="36" fill="#1b1c20" text-anchor="middle" font-weight="normal" font-style="normal" stroke="#1b1c20" stroke-width="0.5">-7</text>
<line x1="1603.6" y1="1781.2" x2="1603.6" y2="1789.2" stroke="#1b1c20" stroke-width="2.0" stroke-linecap="butt"/>
<text x="1603.6" y="1823.0" font-size="36" fill="#1b1c20" text-anchor="middle" font-weight="normal" font-style="normal" stroke="#1b1c20" stroke-width="0.5">-6</text>
<line x1="1760.6" y1="1781.2" x2="1760.6" y2="1789.2" stroke="#1b1c20" stroke-width="2.0" stroke-linecap="butt"/>
<text x="1760.6" y="1823.0" font-size="36" fill="#1b1c20" text-anchor="middle" font-weight="normal" font-style="normal" stroke="#1b1c20" stroke-width="0.5">-5</text>
<path d="M1288.4,1596.2 L1293.8,1603.3 L1299.1,1610.2 L1304.5,1617.0 L1309.9,1623.6 L1315.2,1630.0 L1320.6,1636.3 L1326.0,1642.4 L1331.3,1648.3 L1336.7,1654.1 L1342.1,1659.7 L1347.5,1665.1 L1352.8,1670.3 L1358.2,1675.3 L1363.6,1680.2 L1368.9,1684.9 L1374.3,1689.5 L1379.7,1693.9 L1385.1,1698.1 L1390.4,1702.1 L1395.8,1706.0 L1401.2,1709.8 L1406.5,1713.4 L1411.9,1716.8 L1417.3,1720.1 L1422.7,1723.3 L1428.0,1726.3 L1433.4,1729.2 L1438.8,1732.0 L1444.1,1734.7 L1449.5,1737.2 L1454.9,1739.7 L1460.3,1742.0 L1465.6,1744.2 L1471.0,1746.3 L1476.4,1748.3 L1481.7,1750.2 L1487.1,1752.1 L1492.5,1753.8 L1497.9,1755.5 L1503.2,1757.0 L1508.6,1758.6 L1514.0,1760.0 L1519.3,1761.3 L1524.7,1762.6 L1530.1,1763.9 L1535.5,1765.0 L1540.8,1766.2 L1546.2,1767.2 L1551.6,1768.2 L1556.9,1769.2 L1562.3,1770.1 L1567.7,1771.0 L1573.1,1771.8 L1578.4,1772.6 L1583.8,1773.3 L1589.2,1774.0 L1594.5,1774.7 L1599.9,1775.3 L1605.3,1775.9 L1610.6,1776.5 L1616.0,1777.0 L1621.4,1777.5 L1626.8,1778.0 L1632.1,1778.4 L1637.5,1778.9 L1642.9,1779.3 L1648.2,1779.7 L1653.6,1780.1 L1659.0,1780.3 L1664.4,1780.3 L1669.7,1780.3 L1675.1,1780.3 L1680.5,1780.3 L1685.8,1780.3 L1691.2,1780.3 L1696.6,1780.3 L1702.0,1780.3 L1707.3,1780.3 L1712.7,1780.3" fill="none" stroke="#f60a21" stroke-width="1.5"/>
<path d="M1288.4,1445.9 L1293.8,1448.9 L1299.1,1452.3 L1304.5,1455.9 L1309.9,1459.8 L1315.2,1464.1 L1320.6,1468.7 L1326.0,1473.7 L1331.3,1479.1 L1336.7,1484.9 L1342.1,1491.0 L1347.5,1497.6 L1352.8,1504.5 L1358.2,1511.9 L1363.6,1519.6 L1368.9,1527.7 L1374.3,1536.2 L1379.7,1544.9 L1385.1,1554.0 L1390.4,1563.3 L1395.8,1572.8 L1401.2,1582.4 L1406.5,1592.2 L1411.9,1602.0 L1417.3,1611.7 L1422.7,1621.4 L1428.0,1631.0 L1433.4,1640.4 L1438.8,1649.6 L1444.1,1658.6 L1449.5,1667.2 L1454.9,1675.5 L1460.3,1683.5 L1465.6,1691.1 L1471.0,1698.2 L1476.4,1705.0 L1481.7,1711.4 L1487.1,1717.4 L1492.5,1723.0 L1497.9,1728.2 L1503.2,1733.0 L1508.6,1737.5 L1514.0,1741.7 L1519.3,1745.5 L1524.7,1749.0 L1530.1,1752.2 L1535.5,1755.1 L1540.8,1757.8 L1546.2,1760.3 L1551.6,1762.5 L1556.9,1764.5 L1562.3,1766.4 L1567.7,1768.1 L1573.1,1769.6 L1578.4,1771.0 L1583.8,1772.2 L1589.2,1773.3 L1594.5,1774.4 L1599.9,1775.3 L1605.3,1776.1 L1610.6,1776.9 L1616.0,1777.6 L1621.4,1778.2 L1626.8,1778.7 L1632.1,1779.2 L1637.5,1779.7 L1642.9,1780.1 L1648.2,1780.3 L1653.6,1780.3 L1659.0,1780.3 L1664.4,1780.3 L1669.7,1780.3 L1675.1,1780.3 L1680.5,1780.3 L1685.8,1780.3 L1691.2,1780.3 L1696.6,1780.3 L1702.0,1780.3 L1707.3,1780.3 L1712.7,1780.3" fill="none" stroke="#1b1c20" stroke-width="1.8"/>
<line x1="1335.1" y1="1650.0" x2="1335.1" y2="1671.8" stroke="#f60a21" stroke-width="1.4" stroke-linecap="butt"/>
<line x1="1325.9" y1="1650.0" x2="1344.4" y2="1650.0" stroke="#f60a21" stroke-width="1.4" stroke-linecap="butt"/>
<line x1="1325.9" y1="1671.8" x2="1344.4" y2="1671.8" stroke="#f60a21" stroke-width="1.4" stroke-linecap="butt"/>
<line x1="1382.3" y1="1685.3" x2="1382.3" y2="1706.1" stroke="#f60a21" stroke-width="1.4" stroke-linecap="butt"/>
<line x1="1373.1" y1="1685.3" x2="1391.6" y2="1685.3" stroke="#f60a21" stroke-width="1.4" stroke-linecap="butt"/>
<line x1="1373.1" y1="1706.1" x2="1391.6" y2="1706.1" stroke="#f60a21" stroke-width="1.4" stroke-linecap="butt"/>
<rect x="1277.8" y="1582.3" width="20.2" height="20.2" fill="#f60a21"/>
<rect x="1325.0" y="1650.8" width="20.2" height="20.2" fill="#f60a21"/>
<rect x="1372.2" y="1685.6" width="20.2" height="20.2" fill="#f60a21"/>
<rect x="1419.4" y="1706.5" width="20.2" height="20.2" fill="#f60a21"/>
<rect x="1466.6" y="1733.7" width="20.2" height="20.2" fill="#f60a21"/>
<rect x="1513.8" y="1757.9" width="20.2" height="20.2" fill="#f60a21"/>
<rect x="1561.0" y="1768.7" width="20.2" height="20.2" fill="#f60a21"/>
<rect x="1608.2" y="1770.4" width="20.2" height="20.2" fill="#f60a21"/>
<rect x="1655.4" y="1770.4" width="20.2" height="20.2" fill="#f60a21"/>
<rect x="1702.6" y="1768.7" width="20.2" height="20.2" fill="#f60a21"/>
<line x1="1287.9" y1="1467.6" x2="1287.9" y2="1496.6" stroke="#1b1c20" stroke-width="1.75" stroke-linecap="butt"/>
<line x1="1278.7" y1="1467.6" x2="1297.2" y2="1467.6" stroke="#1b1c20" stroke-width="1.75" stroke-linecap="butt"/>
<line x1="1278.7" y1="1496.6" x2="1297.2" y2="1496.6" stroke="#1b1c20" stroke-width="1.75" stroke-linecap="butt"/>
<line x1="1335.1" y1="1462.5" x2="1335.1" y2="1500.5" stroke="#1b1c20" stroke-width="1.75" stroke-linecap="butt"/>
<line x1="1325.9" y1="1462.5" x2="1344.4" y2="1462.5" stroke="#1b1c20" stroke-width="1.75" stroke-linecap="butt"/>
<line x1="1325.9" y1="1500.5" x2="1344.4" y2="1500.5" stroke="#1b1c20" stroke-width="1.75" stroke-linecap="butt"/>
<line x1="1382.3" y1="1520.2" x2="1382.3" y2="1546.2" stroke="#1b1c20" stroke-width="1.75" stroke-linecap="butt"/>
<line x1="1373.1" y1="1520.2" x2="1391.6" y2="1520.2" stroke="#1b1c20" stroke-width="1.75" stroke-linecap="butt"/>
<line x1="1373.1" y1="1546.2" x2="1391.6" y2="1546.2" stroke="#1b1c20" stroke-width="1.75" stroke-linecap="butt"/>
<line x1="1429.5" y1="1608.9" x2="1429.5" y2="1676.1" stroke="#1b1c20" stroke-width="1.75" stroke-linecap="butt"/>
<line x1="1420.2" y1="1608.9" x2="1438.8" y2="1608.9" stroke="#1b1c20" stroke-width="1.75" stroke-linecap="butt"/>
<line x1="1420.2" y1="1676.1" x2="1438.8" y2="1676.1" stroke="#1b1c20" stroke-width="1.75" stroke-linecap="butt"/>
<line x1="1476.7" y1="1708.0" x2="1476.7" y2="1728.0" stroke="#1b1c20" stroke-width="1.75" stroke-linecap="butt"/>
<line x1="1467.5" y1="1708.0" x2="1486.0" y2="1708.0" stroke="#1b1c20" stroke-width="1.75" stroke-linecap="butt"/>
<line x1="1467.5" y1="1728.0" x2="1486.0" y2="1728.0" stroke="#1b1c20" stroke-width="1.75" stroke-linecap="butt"/>
<circle cx="1287.9" cy="1482.1" r="10.14" fill="#1b1c20"/>
<circle cx="1335.1" cy="1481.5" r="10.14" fill="#1b1c20"/>
<circle cx="1382.3" cy="1533.2" r="10.14" fill="#1b1c20"/>
<circle cx="1429.5" cy="1642.5" r="10.14" fill="#1b1c20"/>
<circle cx="1476.7" cy="1718.0" r="10.14" fill="#1b1c20"/>
<circle cx="1523.9" cy="1758.8" r="10.14" fill="#1b1c20"/>
<circle cx="1571.1" cy="1772.8" r="10.14" fill="#1b1c20"/>
<circle cx="1618.3" cy="1777.8" r="10.14" fill="#1b1c20"/>
<circle cx="1665.5" cy="1779.5" r="10.14" fill="#1b1c20"/>
<circle cx="1712.7" cy="1779.9" r="10.14" fill="#1b1c20"/>
<text x="1416.8" y="1492.0" font-size="32.5" fill="#1b1c20" text-anchor="start" font-weight="normal" font-style="normal" stroke="#1b1c20" stroke-width="0.5">AUC: 77</text>
<text x="1416.8" y="1531.3" font-size="32.5" fill="#1b1c20">IC<tspan font-size="18.5" dy="10.5">50</tspan><tspan dy="-10.5">: 56nM</tspan></text>
<text x="1582.0" y="1682.0" font-size="32.5" fill="#e8152a" text-anchor="start" font-weight="normal" font-style="normal" stroke="#e8152a" stroke-width="0.5">AUC: 35</text>
<text x="1582.0" y="1721.3" font-size="32.5" fill="#e8152a">IC<tspan font-size="18.5" dy="10.5">50</tspan><tspan dy="-10.5">: 9nM</tspan></text>
<text x="28.7" y="1540.0" font-size="36" fill="#1b1c20" text-anchor="middle" font-weight="normal" font-style="normal" stroke="#1b1c20" stroke-width="0.5" transform="rotate(-90 28.7 1540.0)" textLength="396.2" lengthAdjust="spacing">Normalized Intensity (%)</text>
<line x1="1732.3" y1="1316.3" x2="1776.0" y2="1316.3" stroke="#1b1c20" stroke-width="1.9" stroke-linecap="butt"/>
<circle cx="1754.2" cy="1316.3" r="9.36" fill="#1b1c20"/>
<text x="1782.7" y="1330.0" font-size="33" fill="#1b1c20" text-anchor="start" font-weight="normal" font-style="normal" stroke="#1b1c20" stroke-width="0.5">DMSO</text>
<line x1="1732.3" y1="1360.2" x2="1776.0" y2="1360.2" stroke="#f60a21" stroke-width="1.4" stroke-linecap="butt"/>
<rect x="1744.8" y="1350.9" width="18.6" height="18.6" fill="#f60a21"/>
<text x="1783.3" y="1372.5" font-size="33" fill="#1b1c20" text-anchor="start" font-weight="normal" font-style="normal" stroke="#1b1c20" stroke-width="0.5">ARM165</text>
<text x="961.0" y="1875.5" font-size="36" fill="#1b1c20" text-anchor="middle" font-weight="normal" font-style="normal" stroke="#1b1c20" stroke-width="0.5" textLength="369.7" lengthAdjust="spacing">Log [Daunorubicin (M)]</text>
<text x="1528.1" y="1875.5" font-size="36" fill="#1b1c20" text-anchor="middle" font-weight="normal" font-style="normal" stroke="#1b1c20" stroke-width="0.5" textLength="334.9" lengthAdjust="spacing">Log [Venetoclax (M)]</text>
<line x1="602.0" y1="2085.4" x2="602.0" y2="2563.2" stroke="#1b1c20" stroke-width="2.0" stroke-linecap="butt"/>
<line x1="597.0" y1="2562.3" x2="1333.0" y2="2562.3" stroke="#1b1c20" stroke-width="2.0" stroke-linecap="butt"/>
<text x="587.3" y="2574.3" font-size="36" fill="#1b1c20" text-anchor="end" font-weight="normal" font-style="normal" stroke="#1b1c20" stroke-width="0.5">0</text>
<line x1="594.5" y1="2443.4" x2="602.0" y2="2443.4" stroke="#1b1c20" stroke-width="2.0" stroke-linecap="butt"/>
<text x="587.3" y="2455.4" font-size="36" fill="#1b1c20" text-anchor="end" font-weight="normal" font-style="normal" stroke="#1b1c20" stroke-width="0.5">30</text>
<line x1="594.5" y1="2324.5" x2="602.0" y2="2324.5" stroke="#1b1c20" stroke-width="2.0" stroke-linecap="butt"/>
<text x="587.3" y="2336.5" font-size="36" fill="#1b1c20" text-anchor="end" font-weight="normal" font-style="normal" stroke="#1b1c20" stroke-width="0.5">60</text>
<line x1="594.5" y1="2205.6" x2="602.0" y2="2205.6" stroke="#1b1c20" stroke-width="2.0" stroke-linecap="butt"/>
<text x="587.3" y="2217.6" font-size="36" fill="#1b1c20" text-anchor="end" font-weight="normal" font-style="normal" stroke="#1b1c20" stroke-width="0.5">90</text>
<line x1="594.5" y1="2086.7" x2="602.0" y2="2086.7" stroke="#1b1c20" stroke-width="2.0" stroke-linecap="butt"/>
<text x="587.3" y="2098.7" font-size="36" fill="#1b1c20" text-anchor="end" font-weight="normal" font-style="normal" stroke="#1b1c20" stroke-width="0.5">120</text>
<rect x="629.3" y="2167.0" width="67.8" height="394.7" fill="#6f7f7f"/>
<rect x="718.1" y="2225.8" width="67.8" height="335.9" fill="#ef5a8e"/>
<rect x="896.5" y="2167.0" width="67.8" height="394.7" fill="#6f7f7f"/>
<rect x="984.8" y="2262.0" width="67.8" height="299.7" fill="#ef5a8e"/>
<rect x="1163.1" y="2167.0" width="67.8" height="394.7" fill="#6f7f7f"/>
<rect x="1252.1" y="2343.3" width="67.8" height="218.4" fill="#ef5a8e"/>
<line x1="597.0" y1="2562.3" x2="1333.0" y2="2562.3" stroke="#1b1c20" stroke-width="2.0" stroke-linecap="butt"/>
<line x1="663.2" y1="2562.3" x2="663.2" y2="2570.3" stroke="#1b1c20" stroke-width="2.0" stroke-linecap="butt"/>
<text x="672.9" y="2576.0" font-size="36" fill="#1b1c20" text-anchor="end" font-weight="normal" font-style="normal" stroke="#1b1c20" stroke-width="0.5" transform="rotate(-90 672.9 2576.0)">DMSO</text>
<line x1="752.0" y1="2562.3" x2="752.0" y2="2570.3" stroke="#1b1c20" stroke-width="2.0" stroke-linecap="butt"/>
<text x="761.7" y="2576.0" font-size="36" fill="#1b1c20" text-anchor="end" font-weight="normal" font-style="normal" stroke="#1b1c20" stroke-width="0.5" transform="rotate(-90 761.7 2576.0)">ARM165</text>
<line x1="930.4" y1="2562.3" x2="930.4" y2="2570.3" stroke="#1b1c20" stroke-width="2.0" stroke-linecap="butt"/>
<text x="940.1" y="2576.0" font-size="36" fill="#1b1c20" text-anchor="end" font-weight="normal" font-style="normal" stroke="#1b1c20" stroke-width="0.5" transform="rotate(-90 940.1 2576.0)">DMSO</text>
<line x1="1018.7" y1="2562.3" x2="1018.7" y2="2570.3" stroke="#1b1c20" stroke-width="2.0" stroke-linecap="butt"/>
<text x="1028.4" y="2576.0" font-size="36" fill="#1b1c20" text-anchor="end" font-weight="normal" font-style="normal" stroke="#1b1c20" stroke-width="0.5" transform="rotate(-90 1028.4 2576.0)">ARM165</text>
<line x1="1197.0" y1="2562.3" x2="1197.0" y2="2570.3" stroke="#1b1c20" stroke-width="2.0" stroke-linecap="butt"/>
<text x="1206.7" y="2576.0" font-size="36" fill="#1b1c20" text-anchor="end" font-weight="normal" font-style="normal" stroke="#1b1c20" stroke-width="0.5" transform="rotate(-90 1206.7 2576.0)">DMSO</text>
<line x1="1286.0" y1="2562.3" x2="1286.0" y2="2570.3" stroke="#1b1c20" stroke-width="2.0" stroke-linecap="butt"/>
<text x="1295.7" y="2576.0" font-size="36" fill="#1b1c20" text-anchor="end" font-weight="normal" font-style="normal" stroke="#1b1c20" stroke-width="0.5" transform="rotate(-90 1295.7 2576.0)">ARM165</text>
<text x="707.7" y="2012.5" font-size="36" fill="#1b1c20" text-anchor="middle" font-weight="normal" font-style="normal" stroke="#1b1c20" stroke-width="0.5">+ Cyta</text>
<line x1="663.5" y1="2030.0" x2="751.5" y2="2030.0" stroke="#1b1c20" stroke-width="1.9" stroke-linecap="butt"/>
<text x="977.5" y="2012.5" font-size="36" fill="#1b1c20" text-anchor="middle" font-weight="normal" font-style="normal" stroke="#1b1c20" stroke-width="0.5">+ Dauno</text>
<line x1="933.0" y1="2030.0" x2="1021.0" y2="2030.0" stroke="#1b1c20" stroke-width="1.9" stroke-linecap="butt"/>
<text x="1241.3" y="2012.5" font-size="36" fill="#1b1c20" text-anchor="middle" font-weight="normal" font-style="normal" stroke="#1b1c20" stroke-width="0.5">+ Vene</text>
<line x1="1197.5" y1="2030.0" x2="1286.0" y2="2030.0" stroke="#1b1c20" stroke-width="1.9" stroke-linecap="butt"/>
<text x="740.4" y="2130.0" font-size="23.2" fill="#1b1c20" text-anchor="middle" font-weight="normal" font-style="italic">p &lt; 0.0001</text>
<text x="1008.7" y="2130.0" font-size="23.2" fill="#1b1c20" text-anchor="middle" font-weight="normal" font-style="italic">p &lt; 0.0001</text>
<text x="1275.4" y="2130.0" font-size="23.2" fill="#1b1c20" text-anchor="middle" font-weight="normal" font-style="italic">p &lt; 0.0001</text>
<text x="873.0" y="2087.0" font-size="23.2" fill="#1b1c20" text-anchor="middle" font-weight="normal" font-style="italic">p &lt; 0.001</text>
<text x="1162.5" y="2067.0" font-size="23.2" fill="#1b1c20" text-anchor="middle" font-weight="normal" font-style="italic">p &lt; 0.0001</text>
<polyline points="714.5,2139.3 751.6,2139.3 751.6,2146.0" fill="none" stroke="#1b1c20" stroke-width="1.9"/>
<polyline points="981.8,2139.3 1018.7,2139.3 1018.7,2146.0" fill="none" stroke="#1b1c20" stroke-width="1.9"/>
<polyline points="1248.8,2139.3 1285.7,2139.3 1285.7,2146.0" fill="none" stroke="#1b1c20" stroke-width="1.9"/>
<polyline points="751.0,2103.0 751.0,2096.6 1018.7,2096.6 1018.7,2107.5" fill="none" stroke="#1b1c20" stroke-width="1.9"/>
<polyline points="1018.3,2083.0 1018.3,2076.2 1285.7,2076.2 1285.7,2105.0" fill="none" stroke="#1b1c20" stroke-width="1.9"/>
<line x1="663.2" y1="2152.7" x2="663.2" y2="2181.3" stroke="#1b1c20" stroke-width="1.9" stroke-linecap="butt"/>
<line x1="646.2" y1="2152.7" x2="680.2" y2="2152.7" stroke="#1b1c20" stroke-width="1.9" stroke-linecap="butt"/>
<line x1="646.2" y1="2181.3" x2="680.2" y2="2181.3" stroke="#1b1c20" stroke-width="1.9" stroke-linecap="butt"/>
<path d="M655.3,2149.2 A7.9,7.9 0 0 1 671.1,2149.2 L671.1,2189.3 A7.9,7.9 0 0 1 655.3,2189.3Z" fill="#1b1c20"/>
<path d="M657.0,2192.5 L669.5,2192.5 L663.2,2204.0Z" fill="#1b1c20"/>
<line x1="930.4" y1="2148.1" x2="930.4" y2="2185.9" stroke="#1b1c20" stroke-width="1.9" stroke-linecap="butt"/>
<line x1="913.4" y1="2148.1" x2="947.4" y2="2148.1" stroke="#1b1c20" stroke-width="1.9" stroke-linecap="butt"/>
<line x1="913.4" y1="2185.9" x2="947.4" y2="2185.9" stroke="#1b1c20" stroke-width="1.9" stroke-linecap="butt"/>
<path d="M922.5,2137.9 A7.9,7.9 0 0 1 938.3,2137.9 L938.3,2195.1 A7.9,7.9 0 0 1 922.5,2195.1Z" fill="#1b1c20"/>
<path d="M922.5,2202.5 L938.3,2202.5 L930.4,2217.5Z" fill="#1b1c20"/>
<line x1="1197.0" y1="2148.7" x2="1197.0" y2="2184.5" stroke="#1b1c20" stroke-width="1.9" stroke-linecap="butt"/>
<line x1="1180.0" y1="2148.7" x2="1214.0" y2="2148.7" stroke="#1b1c20" stroke-width="1.9" stroke-linecap="butt"/>
<line x1="1180.0" y1="2184.5" x2="1214.0" y2="2184.5" stroke="#1b1c20" stroke-width="1.9" stroke-linecap="butt"/>
<path d="M1189.1,2125.8 L1189.1,2125.8 L1204.9,2125.8 L1204.9,2141.0 L1204.9,2141.0 L1189.1,2141.0Z" fill="#1b1c20"/>
<path d="M1189.1,2142.0 L1189.1,2142.0 L1204.9,2142.0 L1204.9,2198.0 L1204.9,2198.0 L1189.1,2198.0Z" fill="#1b1c20"/>
<path d="M1189.1,2196.5 L1204.9,2196.5 L1197.0,2209.5Z" fill="#1b1c20"/>
<line x1="752.0" y1="2185.3" x2="752.0" y2="2265.7" stroke="#f60a21" stroke-width="1.4" stroke-linecap="butt"/>
<line x1="735.0" y1="2185.3" x2="769.0" y2="2185.3" stroke="#f60a21" stroke-width="1.4" stroke-linecap="butt"/>
<line x1="735.0" y1="2265.7" x2="769.0" y2="2265.7" stroke="#f60a21" stroke-width="1.4" stroke-linecap="butt"/>
<path d="M744.1,2152.0 L759.9,2152.0 L752.0,2167.0Z" fill="#f60a21"/>
<path d="M744.1,2158.0 L759.9,2158.0 L752.0,2169.0Z" fill="#f60a21"/>
<path d="M744.1,2168.5 L759.9,2168.5 L752.0,2183.7Z" fill="#f60a21"/>
<path d="M744.1,2191.3 L744.1,2191.3 L759.9,2191.3 L759.9,2200.0 L759.9,2200.0 L744.1,2200.0Z" fill="#f60a21"/>
<circle cx="752.0" cy="2199.7" r="7.7" fill="#f60a21"/>
<path d="M744.1,2208.2 L744.1,2208.2 L759.9,2208.2 L759.9,2259.0 L759.9,2259.0 L744.1,2259.0Z" fill="#f60a21"/>
<circle cx="752.0" cy="2265.6" r="7.7" fill="#f60a21"/>
<circle cx="752.0" cy="2271.5" r="7.7" fill="#f60a21"/>
<path d="M744.1,2289.2 A7.9,7.9 0 0 1 759.9,2289.2 L759.9,2303.8 L759.9,2303.8 L744.1,2303.8Z" fill="#f60a21"/>
<line x1="1018.7" y1="2231.0" x2="1018.7" y2="2293.0" stroke="#f60a21" stroke-width="1.4" stroke-linecap="butt"/>
<line x1="1001.7" y1="2231.0" x2="1035.7" y2="2231.0" stroke="#f60a21" stroke-width="1.4" stroke-linecap="butt"/>
<line x1="1001.7" y1="2293.0" x2="1035.7" y2="2293.0" stroke="#f60a21" stroke-width="1.4" stroke-linecap="butt"/>
<path d="M1010.8,2217.4 A7.9,7.9 0 0 1 1026.6,2217.4 L1026.6,2294.0 L1026.6,2294.0 L1010.8,2294.0Z" fill="#f60a21"/>
<path d="M1010.8,2293.0 L1026.6,2293.0 L1018.7,2305.5Z" fill="#f60a21"/>
<path d="M1011.2,2331.5 L1026.2,2331.5 L1018.7,2346.3Z" fill="#f60a21"/>
<line x1="1286.0" y1="2306.4" x2="1286.0" y2="2379.4" stroke="#f60a21" stroke-width="1.4" stroke-linecap="butt"/>
<line x1="1269.0" y1="2306.4" x2="1303.0" y2="2306.4" stroke="#f60a21" stroke-width="1.4" stroke-linecap="butt"/>
<line x1="1269.0" y1="2379.4" x2="1303.0" y2="2379.4" stroke="#f60a21" stroke-width="1.4" stroke-linecap="butt"/>
<circle cx="1286.0" cy="2278.7" r="7.7" fill="#f60a21"/>
<path d="M1278.2,2293.3 A7.8,7.8 0 0 1 1293.8,2293.3 L1293.8,2304.4 A7.8,7.8 0 0 1 1278.2,2304.4Z" fill="#f60a21"/>
<circle cx="1286.0" cy="2318.1" r="7.7" fill="#f60a21"/>
<path d="M1278.5,2318.5 L1293.5,2318.5 L1286.0,2330.9Z" fill="#f60a21"/>
<path d="M1278.1,2331.4 L1278.1,2331.4 L1293.9,2331.4 L1293.9,2342.0 L1293.9,2342.0 L1278.1,2342.0Z" fill="#f60a21"/>
<circle cx="1286.0" cy="2347.5" r="7.7" fill="#f60a21"/>
<path d="M1278.5,2348.5 L1293.5,2348.5 L1286.0,2361.1Z" fill="#f60a21"/>
<path d="M1278.1,2362.1 L1278.1,2362.1 L1293.9,2362.1 L1293.9,2404.0 L1293.9,2404.0 L1278.1,2404.0Z" fill="#f60a21"/>
<text x="462.5" y="2330.4" font-size="36" fill="#1b1c20" text-anchor="middle" font-weight="normal" font-style="normal" stroke="#1b1c20" stroke-width="0.5" transform="rotate(-90 462.5 2330.4)">Drug Sensitivity</text>
<text x="506.2" y="2326.8" font-size="36" fill="#1b1c20" text-anchor="middle" font-weight="normal" font-style="normal" stroke="#1b1c20" stroke-width="0.5" transform="rotate(-90 506.2 2326.8)">(AUC Relative to DMSO, %)</text>
</svg>
</body></html>
